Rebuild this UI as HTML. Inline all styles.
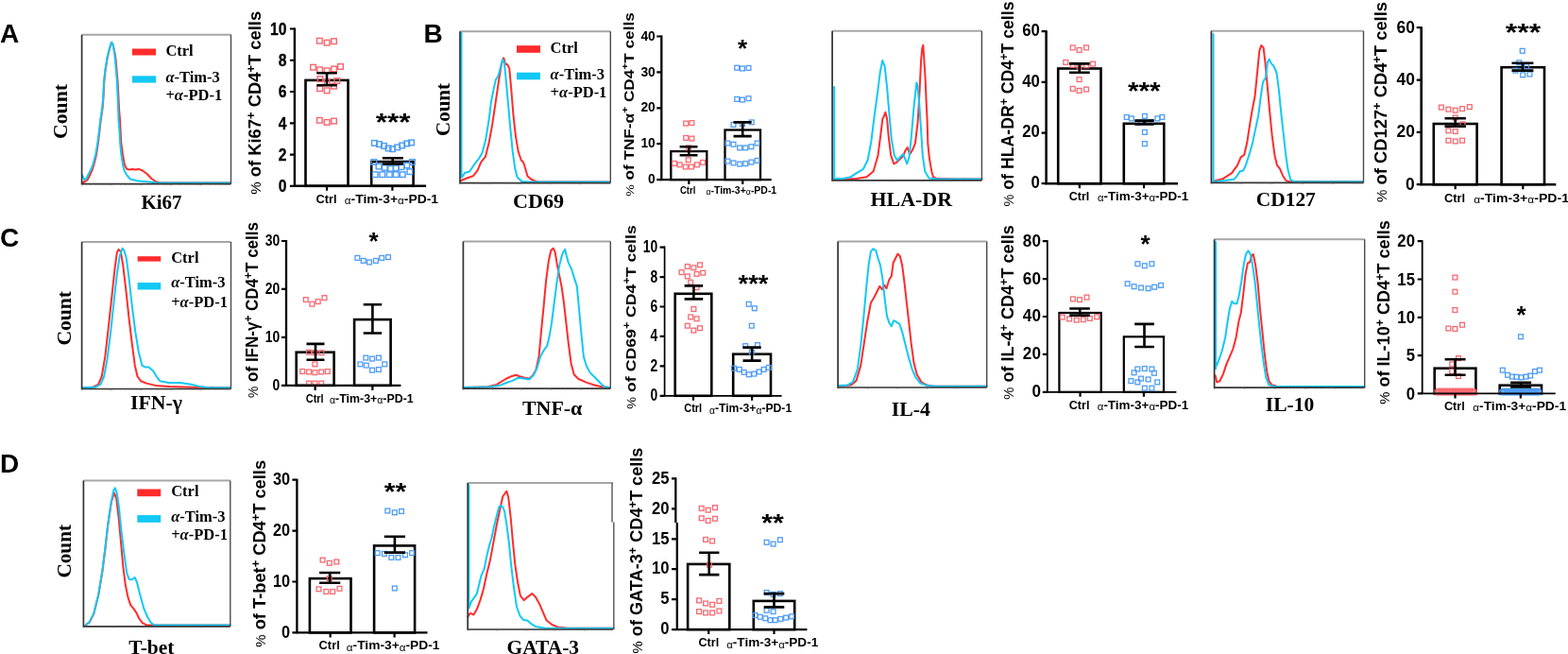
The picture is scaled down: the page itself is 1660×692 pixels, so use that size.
<!DOCTYPE html>
<html><head><meta charset="utf-8"><title>Figure</title>
<style>html,body{margin:0;padding:0;background:#fff;} svg{display:block;filter:blur(0.35px);}</style></head>
<body><svg width="1660" height="692" viewBox="0 0 1660 692">
<rect width="1660" height="692" fill="#fff"/>
<text x="0" y="45" font-family="'Liberation Sans', Arial, sans-serif" font-weight="bold" font-size="28">A</text>
<text x="448.4" y="45.3" font-family="'Liberation Sans', Arial, sans-serif" font-weight="bold" font-size="28">B</text>
<text x="0" y="261.2" font-family="'Liberation Sans', Arial, sans-serif" font-weight="bold" font-size="28">C</text>
<text x="0" y="499.8" font-family="'Liberation Sans', Arial, sans-serif" font-weight="bold" font-size="28">D</text>
<polyline points="87.2,193.5 90,192 92.5,190.5 94.8,186 97.5,180 99.3,174.5 101,168 102.2,162.4 104,150.5 105.4,138.7 106.7,126.8 108.5,115 109.5,103 110.3,86.3 111.5,75 113.6,61.3 115.6,53 117.3,47 118.2,45 119.8,48 121.5,56 122.6,63.1 124.6,86.3 126.2,117 127,126.8 128.2,150.5 129.8,162.4 131.8,174.2 134.2,178.8 137,179.6 140,179 144,179.4 147,178.8 150.8,180.5 155.6,184 160.4,189 165.1,192.3 170,193.5 244,193.5" fill="none" stroke="#ff2b2b" stroke-width="2" stroke-linejoin="round" stroke-linecap="round"/>
<polyline points="87.2,185.5 89.2,190 91,189.5 93.9,183.7 96.5,179 98.3,174.2 100,168 101.4,162.4 103.4,150.5 104.9,138.7 106.3,126.8 108.1,115 109.2,103 110,86.3 111.2,75 113.4,61.3 115.5,53 117.2,47 118.1,44.6 119.5,47 121,55 121.9,63.1 123.9,86.3 125.2,117 125.5,126.8 126.5,138.7 127.1,150.5 128.2,162.4 130,174.2 131.8,181.3 134.8,186 138,189.5 145,191.3 155,192.3 165,193.2 175,193.5 244,193.5" fill="none" stroke="#12c8f5" stroke-width="2" stroke-linejoin="round" stroke-linecap="round"/>
<path d="M86.6,36.7 H244.5" fill="none" stroke="#a6a6a6" stroke-width="2"/>
<path d="M244.5,36.7 V194.7" fill="none" stroke="#4a4a4a" stroke-width="1.4"/>
<path d="M86.6,36.7 V194.7 H244.5" fill="none" stroke="#333" stroke-width="1.7"/>
<path d="M86.6,194.7 v1.6 M96.11,194.7 v1.0 M101.67,194.7 v1.0 M105.61,194.7 v1.0 M108.67,194.7 v1.0 M111.17,194.7 v1.0 M113.29,194.7 v1.0 M115.12,194.7 v1.0 M116.73,194.7 v1.0 M118.18,194.7 v1.6 M127.69,194.7 v1.0 M133.25,194.7 v1.0 M137.19,194.7 v1.0 M140.25,194.7 v1.0 M142.75,194.7 v1.0 M144.87,194.7 v1.0 M146.7,194.7 v1.0 M148.31,194.7 v1.0 M149.76,194.7 v1.6 M159.27,194.7 v1.0 M164.83,194.7 v1.0 M168.77,194.7 v1.0 M171.83,194.7 v1.0 M174.33,194.7 v1.0 M176.45,194.7 v1.0 M178.28,194.7 v1.0 M179.89,194.7 v1.0 M181.34,194.7 v1.6 M190.85,194.7 v1.0 M196.41,194.7 v1.0 M200.35,194.7 v1.0 M203.41,194.7 v1.0 M205.91,194.7 v1.0 M208.03,194.7 v1.0 M209.86,194.7 v1.0 M211.47,194.7 v1.0 M212.92,194.7 v1.6 M222.43,194.7 v1.0 M227.99,194.7 v1.0 M231.93,194.7 v1.0 M234.99,194.7 v1.0 M237.49,194.7 v1.0 M239.61,194.7 v1.0 M241.44,194.7 v1.0 M243.05,194.7 v1.0" stroke="#666" stroke-width="0.8"/>
<text transform="translate(71,118) rotate(-90)" text-anchor="middle" font-family="'Liberation Serif', 'Times New Roman', serif" font-weight="bold" font-size="21" textLength="58" lengthAdjust="spacingAndGlyphs">Count</text>
<text x="149.5" y="221" font-family="'Liberation Serif', 'Times New Roman', serif" font-weight="bold" font-size="21" textLength="43" lengthAdjust="spacingAndGlyphs">Ki67</text>
<rect x="140" y="51.5" width="25" height="7" fill="#ff2b2b"/>
<rect x="140" y="80.3" width="25" height="7.3" fill="#12c8f5"/>
<text font-family="'Liberation Serif', 'Times New Roman', serif" font-weight="bold" font-size="16.5"><tspan x="175.4" y="58.5">Ctrl</tspan><tspan x="175.4" y="87"><tspan font-style="italic">α</tspan>-Tim-3</tspan><tspan x="175.4" y="106">+<tspan font-style="italic">α</tspan>-PD-1</tspan></text>
<polyline points="487.6,191.2 493.6,188.8 500.8,186.3 505.6,180.3 509.2,171.7 514,165.7 517.6,151.1 521.2,131.7 524.8,107.4 528.4,83.1 530.8,68.5 533.2,61.2 534.9,67.3 537.3,68.5 539.2,72.1 541.1,92.8 543.5,121.9 545.9,143.8 548.8,160.8 551.7,169.3 554.1,171.7 556,177.8 558.4,186.3 562,189.5 565.6,191.2 569.2,192.4 645,192.4" fill="none" stroke="#ff2b2b" stroke-width="2" stroke-linejoin="round" stroke-linecap="round"/>
<polyline points="488.5,34.5 488.5,185.5 488.8,187.6 492.4,182.7 497.2,181.5 502,174.2 506.8,168.2 510.4,162.1 514,148.8 517.6,126.9 520,107.5 522.4,95.4 524.8,84.5 527.2,80.9 529.6,72.4 532,62.7 533.9,66.3 535.6,83.3 538,110 540.4,136.6 542.8,160.9 545.2,177.9 547.6,187.6 552.4,191.9 560.8,192.4 645,192.4" fill="none" stroke="#12c8f5" stroke-width="2" stroke-linejoin="round" stroke-linecap="round"/>
<path d="M487,33.2 H646.3" fill="none" stroke="#a6a6a6" stroke-width="2"/>
<path d="M646.3,33.2 V193.6" fill="none" stroke="#4a4a4a" stroke-width="1.4"/>
<path d="M487,33.2 V193.6 H646.3" fill="none" stroke="#333" stroke-width="1.7"/>
<path d="M487,193.6 v1.6 M496.59,193.6 v1.0 M502.2,193.6 v1.0 M506.18,193.6 v1.0 M509.27,193.6 v1.0 M511.79,193.6 v1.0 M513.92,193.6 v1.0 M515.77,193.6 v1.0 M517.4,193.6 v1.0 M518.86,193.6 v1.6 M528.45,193.6 v1.0 M534.06,193.6 v1.0 M538.04,193.6 v1.0 M541.13,193.6 v1.0 M543.65,193.6 v1.0 M545.78,193.6 v1.0 M547.63,193.6 v1.0 M549.26,193.6 v1.0 M550.72,193.6 v1.6 M560.31,193.6 v1.0 M565.92,193.6 v1.0 M569.9,193.6 v1.0 M572.99,193.6 v1.0 M575.51,193.6 v1.0 M577.64,193.6 v1.0 M579.49,193.6 v1.0 M581.12,193.6 v1.0 M582.58,193.6 v1.6 M592.17,193.6 v1.0 M597.78,193.6 v1.0 M601.76,193.6 v1.0 M604.85,193.6 v1.0 M607.37,193.6 v1.0 M609.5,193.6 v1.0 M611.35,193.6 v1.0 M612.98,193.6 v1.0 M614.44,193.6 v1.6 M624.03,193.6 v1.0 M629.64,193.6 v1.0 M633.62,193.6 v1.0 M636.71,193.6 v1.0 M639.23,193.6 v1.0 M641.36,193.6 v1.0 M643.21,193.6 v1.0 M644.84,193.6 v1.0" stroke="#666" stroke-width="0.8"/>
<text transform="translate(475.8,116) rotate(-90)" text-anchor="middle" font-family="'Liberation Serif', 'Times New Roman', serif" font-weight="bold" font-size="21" textLength="56" lengthAdjust="spacingAndGlyphs">Count</text>
<text x="543" y="220" font-family="'Liberation Serif', 'Times New Roman', serif" font-weight="bold" font-size="21" textLength="54" lengthAdjust="spacingAndGlyphs">CD69</text>
<rect x="547" y="48.2" width="25" height="7.6" fill="#ff2b2b"/>
<rect x="547" y="76.7" width="25" height="7.6" fill="#12c8f5"/>
<text font-family="'Liberation Serif', 'Times New Roman', serif" font-weight="bold" font-size="16.5"><tspan x="582.6" y="55.8">Ctrl</tspan><tspan x="582.6" y="84"><tspan font-style="italic">α</tspan>-Tim-3</tspan><tspan x="582.6" y="103">+<tspan font-style="italic">α</tspan>-PD-1</tspan></text>
<polyline points="882.8,189.6 906.8,188.9 917.5,187.2 924.7,181.2 929.5,164.4 932.6,140.4 934.3,126 935.5,123.6 937.4,118.8 939.1,126 940.8,145.1 943.2,164.4 946.3,173.5 949.4,171.6 952.3,168.7 955.9,165.6 958.3,159.6 960.7,156 963.1,163.2 966.2,158.4 968.9,151.7 971.6,129.4 973,107 974.1,84.7 975.2,62.3 976.3,51 977.3,47.8 978.3,62.3 979.7,84.7 980.6,107 981.7,129.4 982.3,151.7 983.6,165 985,174.1 986.5,182 988,187.3 991.9,189.1 1039.5,189.6" fill="none" stroke="#ff2b2b" stroke-width="2" stroke-linejoin="round" stroke-linecap="round"/>
<polyline points="883.2,92 883.2,188.9 892.4,188.9 900.8,187.2 906.8,183.1 914,178.8 918.7,169.2 922.3,149.9 925.9,121.2 929.5,94.7 931.9,75.5 934.3,64 936.7,70.7 939.1,92.3 941.5,121.2 943.9,147.6 946.8,164.4 949.9,169.7 953.5,165.6 955.9,163.2 957.8,166.8 960.2,173.5 962.4,166.8 964.8,145.1 967.2,116.4 970.3,87.5 971.3,89.9 973.2,109.2 975.1,138 976.8,164.4 979.2,181.2 983.5,188.4 990.7,189.6 1039.5,189.6" fill="none" stroke="#12c8f5" stroke-width="2" stroke-linejoin="round" stroke-linecap="round"/>
<path d="M881.1,32.8 H1039.4" fill="none" stroke="#a6a6a6" stroke-width="2"/>
<path d="M1039.4,32.8 V190.8" fill="none" stroke="#4a4a4a" stroke-width="1.4"/>
<path d="M881.1,32.8 V190.8 H1039.4" fill="none" stroke="#333" stroke-width="1.7"/>
<path d="M881.1,190.8 v1.6 M890.63,190.8 v1.0 M896.21,190.8 v1.0 M900.16,190.8 v1.0 M903.23,190.8 v1.0 M905.74,190.8 v1.0 M907.86,190.8 v1.0 M909.69,190.8 v1.0 M911.31,190.8 v1.0 M912.76,190.8 v1.6 M922.29,190.8 v1.0 M927.87,190.8 v1.0 M931.82,190.8 v1.0 M934.89,190.8 v1.0 M937.4,190.8 v1.0 M939.52,190.8 v1.0 M941.35,190.8 v1.0 M942.97,190.8 v1.0 M944.42,190.8 v1.6 M953.95,190.8 v1.0 M959.53,190.8 v1.0 M963.48,190.8 v1.0 M966.55,190.8 v1.0 M969.06,190.8 v1.0 M971.18,190.8 v1.0 M973.01,190.8 v1.0 M974.63,190.8 v1.0 M976.08,190.8 v1.6 M985.61,190.8 v1.0 M991.19,190.8 v1.0 M995.14,190.8 v1.0 M998.21,190.8 v1.0 M1000.72,190.8 v1.0 M1002.84,190.8 v1.0 M1004.67,190.8 v1.0 M1006.29,190.8 v1.0 M1007.74,190.8 v1.6 M1017.27,190.8 v1.0 M1022.85,190.8 v1.0 M1026.8,190.8 v1.0 M1029.87,190.8 v1.0 M1032.38,190.8 v1.0 M1034.5,190.8 v1.0 M1036.33,190.8 v1.0 M1037.95,190.8 v1.0" stroke="#666" stroke-width="0.8"/>
<text x="921.5" y="217.8" font-family="'Liberation Serif', 'Times New Roman', serif" font-weight="bold" font-size="21" textLength="86.5" lengthAdjust="spacingAndGlyphs">HLA-DR</text>
<polyline points="1284.8,191.7 1294.4,189.3 1304,183.2 1310,174.8 1313.6,166.3 1317.2,163.9 1320.3,150.6 1323.2,131.3 1325.6,116.8 1328.5,102.3 1330.9,78.2 1333.3,54 1335.2,48 1337.6,50.4 1339.5,66.1 1341.9,92.7 1344.3,119.2 1346.7,143.4 1349.6,165.1 1352,174.8 1354.9,178.4 1358,185.7 1361.6,191.2 1365.2,192.2 1442.8,192.2" fill="none" stroke="#ff2b2b" stroke-width="2" stroke-linejoin="round" stroke-linecap="round"/>
<polyline points="1284.5,36 1284.5,191.9 1284.8,192.2 1294.4,191.2 1306.4,189.8 1310,185.7 1312.4,181.5 1316,180.8 1318.9,174.8 1322,165.1 1325.6,153.1 1329.2,136.2 1332.3,121.7 1334.7,102.4 1337.1,86.7 1340,81.9 1341.9,66.2 1343.6,62.6 1346,67.4 1348.4,69.8 1351.5,77 1353.9,95.1 1356.3,119.3 1358.7,141 1361.1,162.7 1363.5,179.6 1366.4,190.5 1370,192.2 1442.8,192.2" fill="none" stroke="#12c8f5" stroke-width="2" stroke-linejoin="round" stroke-linecap="round"/>
<path d="M1282.4,32.8 H1443.5" fill="none" stroke="#a6a6a6" stroke-width="2"/>
<path d="M1443.5,32.8 V193.4" fill="none" stroke="#4a4a4a" stroke-width="1.4"/>
<path d="M1282.4,32.8 V193.4 H1443.5" fill="none" stroke="#333" stroke-width="1.7"/>
<path d="M1282.4,193.4 v1.6 M1292.1,193.4 v1.0 M1297.77,193.4 v1.0 M1301.8,193.4 v1.0 M1304.92,193.4 v1.0 M1307.47,193.4 v1.0 M1309.63,193.4 v1.0 M1311.5,193.4 v1.0 M1313.15,193.4 v1.0 M1314.62,193.4 v1.6 M1324.32,193.4 v1.0 M1329.99,193.4 v1.0 M1334.02,193.4 v1.0 M1337.14,193.4 v1.0 M1339.69,193.4 v1.0 M1341.85,193.4 v1.0 M1343.72,193.4 v1.0 M1345.37,193.4 v1.0 M1346.84,193.4 v1.6 M1356.54,193.4 v1.0 M1362.21,193.4 v1.0 M1366.24,193.4 v1.0 M1369.36,193.4 v1.0 M1371.91,193.4 v1.0 M1374.07,193.4 v1.0 M1375.94,193.4 v1.0 M1377.59,193.4 v1.0 M1379.06,193.4 v1.6 M1388.76,193.4 v1.0 M1394.43,193.4 v1.0 M1398.46,193.4 v1.0 M1401.58,193.4 v1.0 M1404.13,193.4 v1.0 M1406.29,193.4 v1.0 M1408.16,193.4 v1.0 M1409.81,193.4 v1.0 M1411.28,193.4 v1.6 M1420.98,193.4 v1.0 M1426.65,193.4 v1.0 M1430.68,193.4 v1.0 M1433.8,193.4 v1.0 M1436.35,193.4 v1.0 M1438.51,193.4 v1.0 M1440.38,193.4 v1.0 M1442.03,193.4 v1.0" stroke="#666" stroke-width="0.8"/>
<text x="1329.8" y="217.8" font-family="'Liberation Serif', 'Times New Roman', serif" font-weight="bold" font-size="21" textLength="63" lengthAdjust="spacingAndGlyphs">CD127</text>
<polyline points="87,410.3 98.2,409.8 104.1,406.7 107.7,398.5 111.3,377.2 114.8,346.5 118.4,313.4 121.4,285.1 123.8,267.4 125.5,263.9 127.8,266.2 130.2,280.3 133.3,306.4 136.6,337.1 139.7,363.1 142.8,386.7 145.6,398.5 149.2,403.2 155.1,405.6 164.6,407.9 178.8,409.1 202.5,409.8 244,410.3" fill="none" stroke="#ff2b2b" stroke-width="2" stroke-linejoin="round" stroke-linecap="round"/>
<polyline points="87,410.3 100.6,409.8 106.5,406.7 110.1,398.5 113.6,379.6 117.2,351.2 120.7,318.2 123.8,289.8 126.7,271 129.5,262.7 131.4,265 133.8,273.3 136.6,294.6 139.7,322.9 143.3,351.2 146.8,372.5 150.4,386.7 153.9,388.6 157.5,388.6 162.2,392.6 165.8,398.5 169.3,403.2 178.8,405.1 190.7,405.1 202.5,406.7 212,409.1 221.5,410.3 244,410.3" fill="none" stroke="#12c8f5" stroke-width="2" stroke-linejoin="round" stroke-linecap="round"/>
<path d="M86.6,256 H244.5" fill="none" stroke="#a6a6a6" stroke-width="2"/>
<path d="M244.5,256 V411.5" fill="none" stroke="#4a4a4a" stroke-width="1.4"/>
<path d="M86.6,256 V411.5 H244.5" fill="none" stroke="#333" stroke-width="1.7"/>
<path d="M86.6,411.5 v1.6 M96.11,411.5 v1.0 M101.67,411.5 v1.0 M105.61,411.5 v1.0 M108.67,411.5 v1.0 M111.17,411.5 v1.0 M113.29,411.5 v1.0 M115.12,411.5 v1.0 M116.73,411.5 v1.0 M118.18,411.5 v1.6 M127.69,411.5 v1.0 M133.25,411.5 v1.0 M137.19,411.5 v1.0 M140.25,411.5 v1.0 M142.75,411.5 v1.0 M144.87,411.5 v1.0 M146.7,411.5 v1.0 M148.31,411.5 v1.0 M149.76,411.5 v1.6 M159.27,411.5 v1.0 M164.83,411.5 v1.0 M168.77,411.5 v1.0 M171.83,411.5 v1.0 M174.33,411.5 v1.0 M176.45,411.5 v1.0 M178.28,411.5 v1.0 M179.89,411.5 v1.0 M181.34,411.5 v1.6 M190.85,411.5 v1.0 M196.41,411.5 v1.0 M200.35,411.5 v1.0 M203.41,411.5 v1.0 M205.91,411.5 v1.0 M208.03,411.5 v1.0 M209.86,411.5 v1.0 M211.47,411.5 v1.0 M212.92,411.5 v1.6 M222.43,411.5 v1.0 M227.99,411.5 v1.0 M231.93,411.5 v1.0 M234.99,411.5 v1.0 M237.49,411.5 v1.0 M239.61,411.5 v1.0 M241.44,411.5 v1.0 M243.05,411.5 v1.0" stroke="#666" stroke-width="0.8"/>
<text transform="translate(74.8,336.8) rotate(-90)" text-anchor="middle" font-family="'Liberation Serif', 'Times New Roman', serif" font-weight="bold" font-size="21" textLength="57.6" lengthAdjust="spacingAndGlyphs">Count</text>
<text x="138" y="432.8" font-family="'Liberation Serif', 'Times New Roman', serif" font-weight="bold" font-size="21" textLength="54.8" lengthAdjust="spacingAndGlyphs">IFN-γ</text>
<rect x="145.6" y="271.2" width="24.6" height="5.4" fill="#ff2b2b"/>
<rect x="145.6" y="299" width="24.6" height="7.5" fill="#12c8f5"/>
<text font-family="'Liberation Serif', 'Times New Roman', serif" font-weight="bold" font-size="16.5"><tspan x="181.2" y="277.5">Ctrl</tspan><tspan x="181.2" y="303.8"><tspan font-style="italic">α</tspan>-Tim-3</tspan><tspan x="181.2" y="324.7">+<tspan font-style="italic">α</tspan>-PD-1</tspan></text>
<polyline points="490.4,410 516.4,409.3 525.9,406.9 535.4,401 541.3,398.2 546.1,396.8 550.1,398.2 555.6,399.8 560.3,400.5 563.8,397.5 567.4,391.5 570.5,377.4 572.9,351.3 575.7,323 578.1,296.9 580.9,275.7 583.3,265 585.7,262.7 587.5,266.2 589.9,280.4 592.3,292.2 594.7,304 597,320.6 599.4,341.9 601.8,363.2 604.6,384.5 607.7,396.3 612.4,401 620.7,404.6 630.2,407.7 637.3,409.3 645.5,410" fill="none" stroke="#ff2b2b" stroke-width="2" stroke-linejoin="round" stroke-linecap="round"/>
<polyline points="490.4,410 518.8,409.3 528.3,408.1 535.4,405.3 542.5,402.9 548.4,399.8 554.4,400.5 560.3,401.5 565,396.8 568.6,389.2 572.1,377.4 575.2,371.5 579.3,365.6 581.6,356.1 584,341.9 586.4,323 589.4,299.3 592.3,280.4 594.7,271 596.6,266.2 598.2,263.9 599.9,271 601.8,278.1 605.3,285.2 607.7,293.4 610.8,302.9 613.1,327.7 615.5,353.7 617.9,377.4 620.7,386.8 624.3,393.9 630.2,399.8 636.1,405.8 639.7,409.3 645.5,410" fill="none" stroke="#12c8f5" stroke-width="2" stroke-linejoin="round" stroke-linecap="round"/>
<path d="M490.4,255.6 H646.3" fill="none" stroke="#a6a6a6" stroke-width="2"/>
<path d="M646.3,255.6 V411.2" fill="none" stroke="#4a4a4a" stroke-width="1.4"/>
<path d="M490.4,255.6 V411.2 H646.3" fill="none" stroke="#333" stroke-width="1.7"/>
<path d="M490.4,411.2 v1.6 M499.79,411.2 v1.0 M505.28,411.2 v1.0 M509.17,411.2 v1.0 M512.19,411.2 v1.0 M514.66,411.2 v1.0 M516.75,411.2 v1.0 M518.56,411.2 v1.0 M520.15,411.2 v1.0 M521.58,411.2 v1.6 M530.97,411.2 v1.0 M536.46,411.2 v1.0 M540.35,411.2 v1.0 M543.37,411.2 v1.0 M545.84,411.2 v1.0 M547.93,411.2 v1.0 M549.74,411.2 v1.0 M551.33,411.2 v1.0 M552.76,411.2 v1.6 M562.15,411.2 v1.0 M567.64,411.2 v1.0 M571.53,411.2 v1.0 M574.55,411.2 v1.0 M577.02,411.2 v1.0 M579.11,411.2 v1.0 M580.92,411.2 v1.0 M582.51,411.2 v1.0 M583.94,411.2 v1.6 M593.33,411.2 v1.0 M598.82,411.2 v1.0 M602.71,411.2 v1.0 M605.73,411.2 v1.0 M608.2,411.2 v1.0 M610.29,411.2 v1.0 M612.1,411.2 v1.0 M613.69,411.2 v1.0 M615.12,411.2 v1.6 M624.51,411.2 v1.0 M630,411.2 v1.0 M633.89,411.2 v1.0 M636.91,411.2 v1.0 M639.38,411.2 v1.0 M641.47,411.2 v1.0 M643.28,411.2 v1.0 M644.87,411.2 v1.0" stroke="#666" stroke-width="0.8"/>
<text x="553" y="439.4" font-family="'Liberation Serif', 'Times New Roman', serif" font-weight="bold" font-size="21" textLength="63.3" lengthAdjust="spacingAndGlyphs">TNF-α</text>
<polyline points="887.6,408.8 900.6,407.6 906.5,402.9 911.3,386.4 914.8,362.9 918.4,339.2 921.9,320.5 924.8,315.7 927.9,309.8 931.4,302.8 933.8,306.3 936.2,301.6 938.5,305.2 941.4,295.7 943.8,292.1 945.7,278 948,273.3 950.4,268.6 952.8,271 955.1,280.4 957.5,299.2 959.9,320.5 962.3,341.6 964.6,362.9 967.5,384.1 970.6,395.9 975.3,404.1 981.2,407.6 988.3,408.8 1044.5,408.8" fill="none" stroke="#ff2b2b" stroke-width="2" stroke-linejoin="round" stroke-linecap="round"/>
<polyline points="887.6,408.1 897,407.6 903,404.1 907.7,391.1 911.3,365.2 914.4,334.6 917.2,303.9 919.6,280.4 921.9,266.2 924.3,263.4 927.2,265 929.5,273.2 931.9,280.4 934.3,294.5 936.6,315.7 939,334.6 941.4,341.6 943.8,345.2 946.1,339.2 948.5,340.4 952.3,342.8 955.1,351.1 958.7,365.2 962.3,379.4 965.8,391.1 969.4,399.4 974.1,405.2 981.2,408.1 990.7,408.8 1044.5,408.8" fill="none" stroke="#12c8f5" stroke-width="2" stroke-linejoin="round" stroke-linecap="round"/>
<path d="M887.1,255.6 H1044.7" fill="none" stroke="#a6a6a6" stroke-width="2"/>
<path d="M1044.7,255.6 V410" fill="none" stroke="#4a4a4a" stroke-width="1.4"/>
<path d="M887.1,255.6 V410 H1044.7" fill="none" stroke="#333" stroke-width="1.7"/>
<path d="M887.1,410 v1.6 M896.59,410 v1.0 M902.14,410 v1.0 M906.08,410 v1.0 M909.13,410 v1.0 M911.63,410 v1.0 M913.74,410 v1.0 M915.57,410 v1.0 M917.18,410 v1.0 M918.62,410 v1.6 M928.11,410 v1.0 M933.66,410 v1.0 M937.6,410 v1.0 M940.65,410 v1.0 M943.15,410 v1.0 M945.26,410 v1.0 M947.09,410 v1.0 M948.7,410 v1.0 M950.14,410 v1.6 M959.63,410 v1.0 M965.18,410 v1.0 M969.12,410 v1.0 M972.17,410 v1.0 M974.67,410 v1.0 M976.78,410 v1.0 M978.61,410 v1.0 M980.22,410 v1.0 M981.66,410 v1.6 M991.15,410 v1.0 M996.7,410 v1.0 M1000.64,410 v1.0 M1003.69,410 v1.0 M1006.19,410 v1.0 M1008.3,410 v1.0 M1010.13,410 v1.0 M1011.74,410 v1.0 M1013.18,410 v1.6 M1022.67,410 v1.0 M1028.22,410 v1.0 M1032.16,410 v1.0 M1035.21,410 v1.0 M1037.71,410 v1.0 M1039.82,410 v1.0 M1041.65,410 v1.0 M1043.26,410 v1.0" stroke="#666" stroke-width="0.8"/>
<text x="943.8" y="440" font-family="'Liberation Serif', 'Times New Roman', serif" font-weight="bold" font-size="21" textLength="41" lengthAdjust="spacingAndGlyphs">IL-4</text>
<polyline points="1286.6,397.3 1288.2,404.4 1291.3,403.2 1294.8,396.1 1298.4,385.4 1302,377.1 1305.5,368.8 1308.6,356.9 1311.4,340.2 1313.8,330.8 1316.2,311.7 1318.5,290.4 1320.9,278.4 1323.3,277.3 1325.2,270.1 1326.8,269 1329.2,280.8 1331.6,299.9 1333.9,326 1336.3,349.7 1338.7,373.5 1341.1,392.6 1343.4,403.2 1346.5,407.3 1351.7,408.7 1444.5,409" fill="none" stroke="#ff2b2b" stroke-width="2" stroke-linejoin="round" stroke-linecap="round"/>
<polyline points="1287,256 1287,390.2 1287.3,387.7 1290.1,381.8 1293.7,371.2 1297.2,356.9 1299.6,340.2 1302,326 1304.3,318.9 1306.7,321.3 1309.5,321.3 1311.9,311.7 1314.3,297.5 1316.6,280.9 1319,269 1321.4,265.4 1323.8,269 1326.1,280.9 1328.5,297.5 1330.9,321.3 1333.2,345 1335.6,366.4 1338,385.4 1340.3,399.7 1343.4,407.3 1348.2,408.7 1444.5,409" fill="none" stroke="#12c8f5" stroke-width="2" stroke-linejoin="round" stroke-linecap="round"/>
<path d="M1285.6,253.2 H1444.7" fill="none" stroke="#a6a6a6" stroke-width="2"/>
<path d="M1444.7,253.2 V410.2" fill="none" stroke="#4a4a4a" stroke-width="1.4"/>
<path d="M1285.6,253.2 V410.2 H1444.7" fill="none" stroke="#333" stroke-width="1.7"/>
<path d="M1285.6,410.2 v1.6 M1295.18,410.2 v1.0 M1300.78,410.2 v1.0 M1304.76,410.2 v1.0 M1307.84,410.2 v1.0 M1310.36,410.2 v1.0 M1312.49,410.2 v1.0 M1314.34,410.2 v1.0 M1315.96,410.2 v1.0 M1317.42,410.2 v1.6 M1327,410.2 v1.0 M1332.6,410.2 v1.0 M1336.58,410.2 v1.0 M1339.66,410.2 v1.0 M1342.18,410.2 v1.0 M1344.31,410.2 v1.0 M1346.16,410.2 v1.0 M1347.78,410.2 v1.0 M1349.24,410.2 v1.6 M1358.82,410.2 v1.0 M1364.42,410.2 v1.0 M1368.4,410.2 v1.0 M1371.48,410.2 v1.0 M1374,410.2 v1.0 M1376.13,410.2 v1.0 M1377.98,410.2 v1.0 M1379.6,410.2 v1.0 M1381.06,410.2 v1.6 M1390.64,410.2 v1.0 M1396.24,410.2 v1.0 M1400.22,410.2 v1.0 M1403.3,410.2 v1.0 M1405.82,410.2 v1.0 M1407.95,410.2 v1.0 M1409.8,410.2 v1.0 M1411.42,410.2 v1.0 M1412.88,410.2 v1.6 M1422.46,410.2 v1.0 M1428.06,410.2 v1.0 M1432.04,410.2 v1.0 M1435.12,410.2 v1.0 M1437.64,410.2 v1.0 M1439.77,410.2 v1.0 M1441.62,410.2 v1.0 M1443.24,410.2 v1.0" stroke="#666" stroke-width="0.8"/>
<text x="1339.8" y="434.5" font-family="'Liberation Serif', 'Times New Roman', serif" font-weight="bold" font-size="21" textLength="51.5" lengthAdjust="spacingAndGlyphs">IL-10</text>
<polyline points="90.4,661.6 94.7,658.5 99.4,649.1 104.1,630.3 108.4,604.5 111.4,580.9 114.3,555 117.8,531.5 120.9,521.5 123.2,527.4 125.6,547.4 128,573.3 130.3,599.2 132.7,618.1 135.5,632.1 138.3,640.4 141.4,643.9 144.5,648.6 147.3,654.5 150.8,659.2 155.5,661.6 243.5,661.6" fill="none" stroke="#ff2b2b" stroke-width="2" stroke-linejoin="round" stroke-linecap="round"/>
<polyline points="90.4,661.6 94.7,658 99.4,648.6 104.1,629.7 108.4,603.9 111.3,580.3 114.3,554.4 117.8,530.9 120.2,519.1 121.8,516.3 123.7,521.5 126.1,538 128.4,561.5 131.3,585.1 134.3,606.3 136.7,612.9 139.7,613.3 142.6,611 144.9,615.7 147.8,627.4 152.2,643.5 156,652.5 159.5,658.5 163,661.3 243.5,661.6" fill="none" stroke="#12c8f5" stroke-width="2" stroke-linejoin="round" stroke-linecap="round"/>
<path d="M88.4,508.4 H243.8" fill="none" stroke="#a6a6a6" stroke-width="2"/>
<path d="M243.8,508.4 V662.8" fill="none" stroke="#4a4a4a" stroke-width="1.4"/>
<path d="M88.4,508.4 V662.8 H243.8" fill="none" stroke="#333" stroke-width="1.7"/>
<path d="M88.4,662.8 v1.6 M97.76,662.8 v1.0 M103.23,662.8 v1.0 M107.11,662.8 v1.0 M110.12,662.8 v1.0 M112.58,662.8 v1.0 M114.67,662.8 v1.0 M116.47,662.8 v1.0 M118.06,662.8 v1.0 M119.48,662.8 v1.6 M128.84,662.8 v1.0 M134.31,662.8 v1.0 M138.19,662.8 v1.0 M141.2,662.8 v1.0 M143.66,662.8 v1.0 M145.75,662.8 v1.0 M147.55,662.8 v1.0 M149.14,662.8 v1.0 M150.56,662.8 v1.6 M159.92,662.8 v1.0 M165.39,662.8 v1.0 M169.27,662.8 v1.0 M172.28,662.8 v1.0 M174.74,662.8 v1.0 M176.83,662.8 v1.0 M178.63,662.8 v1.0 M180.22,662.8 v1.0 M181.64,662.8 v1.6 M191,662.8 v1.0 M196.47,662.8 v1.0 M200.35,662.8 v1.0 M203.36,662.8 v1.0 M205.82,662.8 v1.0 M207.91,662.8 v1.0 M209.71,662.8 v1.0 M211.3,662.8 v1.0 M212.72,662.8 v1.6 M222.08,662.8 v1.0 M227.55,662.8 v1.0 M231.43,662.8 v1.0 M234.44,662.8 v1.0 M236.9,662.8 v1.0 M238.99,662.8 v1.0 M240.79,662.8 v1.0 M242.38,662.8 v1.0" stroke="#666" stroke-width="0.8"/>
<text transform="translate(74.8,583.3) rotate(-90)" text-anchor="middle" font-family="'Liberation Serif', 'Times New Roman', serif" font-weight="bold" font-size="21" textLength="56.6" lengthAdjust="spacingAndGlyphs">Count</text>
<text x="136.3" y="691.5" font-family="'Liberation Serif', 'Times New Roman', serif" font-weight="bold" font-size="21" textLength="48.2" lengthAdjust="spacingAndGlyphs">T-bet</text>
<rect x="145.3" y="517.5" width="24.9" height="7.7" fill="#ff2b2b"/>
<rect x="145.3" y="545.1" width="24.9" height="7.7" fill="#12c8f5"/>
<text font-family="'Liberation Serif', 'Times New Roman', serif" font-weight="bold" font-size="16.5"><tspan x="181.2" y="525.2">Ctrl</tspan><tspan x="181.2" y="551.8"><tspan font-style="italic">α</tspan>-Tim-3</tspan><tspan x="181.2" y="571">+<tspan font-style="italic">α</tspan>-PD-1</tspan></text>
<polyline points="495.3,652.8 497.8,648.8 501.4,650.4 504.9,644.6 508.4,635.1 511.9,623.3 515.4,606.8 518.9,592.7 522.4,573.9 525.9,555 529.4,538.5 532.2,525.5 534.6,522 536.4,519.7 538.3,526.7 540.7,548 543,573.9 545.3,597.4 548.1,616.3 550.9,630.4 554.7,635.1 558.7,631.6 563.3,628 566.9,631.6 571.5,639.8 575,648.1 578.5,656.3 584.4,661 590.2,663.4 599.6,664.6 649.5,664.8" fill="none" stroke="#ff2b2b" stroke-width="2" stroke-linejoin="round" stroke-linecap="round"/>
<polyline points="496.4,513 496.4,643.4 499,636.3 502.5,631.6 504.9,628.1 507.2,618.6 509.5,609.2 512.6,602.2 515.4,588 518.2,576.2 520.5,569.2 522.9,557.4 525.9,545.6 528.3,536.3 530.1,535 532.2,536.3 534.1,540.9 536.4,555.1 538.8,573.9 541.1,597.5 543.9,621 547,642.2 550.5,651.6 554,655.8 558.7,656.7 562.2,659.9 566.9,662.9 576.2,664.6 649.5,664.8" fill="none" stroke="#12c8f5" stroke-width="2" stroke-linejoin="round" stroke-linecap="round"/>
<path d="M495.2,511.1 H649.2" fill="none" stroke="#a6a6a6" stroke-width="2"/>
<path d="M648,511.1 V552.6 M649.8,552.6 V666" fill="none" stroke="#555" stroke-width="1.4"/>
<path d="M495.2,511.1 V666 H649.2" fill="none" stroke="#333" stroke-width="1.7"/>
<path d="M495.2,666 v1.6 M504.47,666 v1.0 M509.9,666 v1.0 M513.74,666 v1.0 M516.73,666 v1.0 M519.17,666 v1.0 M521.23,666 v1.0 M523.02,666 v1.0 M524.59,666 v1.0 M526,666 v1.6 M535.27,666 v1.0 M540.7,666 v1.0 M544.54,666 v1.0 M547.53,666 v1.0 M549.97,666 v1.0 M552.03,666 v1.0 M553.82,666 v1.0 M555.39,666 v1.0 M556.8,666 v1.6 M566.07,666 v1.0 M571.5,666 v1.0 M575.34,666 v1.0 M578.33,666 v1.0 M580.77,666 v1.0 M582.83,666 v1.0 M584.62,666 v1.0 M586.19,666 v1.0 M587.6,666 v1.6 M596.87,666 v1.0 M602.3,666 v1.0 M606.14,666 v1.0 M609.13,666 v1.0 M611.57,666 v1.0 M613.63,666 v1.0 M615.42,666 v1.0 M616.99,666 v1.0 M618.4,666 v1.6 M627.67,666 v1.0 M633.1,666 v1.0 M636.94,666 v1.0 M639.93,666 v1.0 M642.37,666 v1.0 M644.43,666 v1.0 M646.22,666 v1.0 M647.79,666 v1.0" stroke="#666" stroke-width="0.8"/>
<text x="536.5" y="691.5" font-family="'Liberation Serif', 'Times New Roman', serif" font-weight="bold" font-size="21" textLength="76.5" lengthAdjust="spacingAndGlyphs">GATA-3</text>
<text transform="translate(275.9,108.8) rotate(-90)" text-anchor="middle" font-family="'Liberation Sans', Arial, sans-serif" font-weight="bold" font-size="18" textLength="194" lengthAdjust="spacingAndGlyphs" xml:space="preserve"><tspan font-weight="normal" font-size="14.8">%</tspan> of Ki67<tspan dy="-6" font-size="12.6">+</tspan><tspan dy="6"> CD4</tspan><tspan dy="-6" font-size="12.6">+</tspan><tspan dy="6">T cells</tspan></text>
<text transform="translate(303.4,203.24) scale(0.87,1)" text-anchor="end" font-family="'Liberation Sans', Arial, sans-serif" font-weight="bold" font-size="18" stroke="#000" stroke-width="0.3">0</text>
<text transform="translate(303.4,169.98) scale(0.87,1)" text-anchor="end" font-family="'Liberation Sans', Arial, sans-serif" font-weight="bold" font-size="18" stroke="#000" stroke-width="0.3">2</text>
<text transform="translate(303.4,136.72) scale(0.87,1)" text-anchor="end" font-family="'Liberation Sans', Arial, sans-serif" font-weight="bold" font-size="18" stroke="#000" stroke-width="0.3">4</text>
<text transform="translate(303.4,103.46) scale(0.87,1)" text-anchor="end" font-family="'Liberation Sans', Arial, sans-serif" font-weight="bold" font-size="18" stroke="#000" stroke-width="0.3">6</text>
<text transform="translate(303.4,70.2) scale(0.87,1)" text-anchor="end" font-family="'Liberation Sans', Arial, sans-serif" font-weight="bold" font-size="18" stroke="#000" stroke-width="0.3">8</text>
<text transform="translate(303.4,36.94) scale(0.87,1)" text-anchor="end" font-family="'Liberation Sans', Arial, sans-serif" font-weight="bold" font-size="18" stroke="#000" stroke-width="0.3">10</text>
<path d="M306.9,196.8 H311.9 M306.9,163.54 H311.9 M306.9,130.28 H311.9 M306.9,97.02 H311.9 M306.9,63.76 H311.9 M306.9,30.5 H311.9" stroke="#000" stroke-width="2.2"/>
<rect x="323.5" y="84.9" width="45" height="111.9" fill="#fff" stroke="#000" stroke-width="2.6"/>
<rect x="393.2" y="171.1" width="44.4" height="25.7" fill="#fff" stroke="#000" stroke-width="2.6"/>
<rect x="335.5" y="40.4" width="5.6" height="5.6" fill="none" stroke="#f86870" stroke-width="1.45"/>
<rect x="343.3" y="42.4" width="5.6" height="5.6" fill="none" stroke="#f86870" stroke-width="1.45"/>
<rect x="350.7" y="40.9" width="5.6" height="5.6" fill="none" stroke="#f86870" stroke-width="1.45"/>
<rect x="328.7" y="68.4" width="5.6" height="5.6" fill="none" stroke="#f86870" stroke-width="1.45"/>
<rect x="335.8" y="71" width="5.6" height="5.6" fill="none" stroke="#f86870" stroke-width="1.45"/>
<rect x="343.3" y="72" width="5.6" height="5.6" fill="none" stroke="#f86870" stroke-width="1.45"/>
<rect x="350.7" y="70.2" width="5.6" height="5.6" fill="none" stroke="#f86870" stroke-width="1.45"/>
<rect x="357.7" y="67.7" width="5.6" height="5.6" fill="none" stroke="#f86870" stroke-width="1.45"/>
<rect x="336.2" y="80.8" width="5.6" height="5.6" fill="none" stroke="#f86870" stroke-width="1.45"/>
<rect x="343.3" y="84.1" width="5.6" height="5.6" fill="none" stroke="#f86870" stroke-width="1.45"/>
<rect x="354" y="82.8" width="5.6" height="5.6" fill="none" stroke="#f86870" stroke-width="1.45"/>
<rect x="335.8" y="90.9" width="5.6" height="5.6" fill="none" stroke="#f86870" stroke-width="1.45"/>
<rect x="343.3" y="93" width="5.6" height="5.6" fill="none" stroke="#f86870" stroke-width="1.45"/>
<rect x="350.7" y="88.4" width="5.6" height="5.6" fill="none" stroke="#f86870" stroke-width="1.45"/>
<rect x="335.5" y="124.5" width="5.6" height="5.6" fill="none" stroke="#f86870" stroke-width="1.45"/>
<rect x="343.3" y="126.6" width="5.6" height="5.6" fill="none" stroke="#f86870" stroke-width="1.45"/>
<rect x="350.7" y="125.3" width="5.6" height="5.6" fill="none" stroke="#f86870" stroke-width="1.45"/>
<rect x="393.6" y="148.6" width="5.6" height="5.6" fill="none" stroke="#4e9cf6" stroke-width="1.45"/>
<rect x="398.7" y="149.8" width="5.6" height="5.6" fill="none" stroke="#4e9cf6" stroke-width="1.45"/>
<rect x="403.7" y="151.6" width="5.6" height="5.6" fill="none" stroke="#4e9cf6" stroke-width="1.45"/>
<rect x="408.3" y="154.1" width="5.6" height="5.6" fill="none" stroke="#4e9cf6" stroke-width="1.45"/>
<rect x="412.8" y="154.9" width="5.6" height="5.6" fill="none" stroke="#4e9cf6" stroke-width="1.45"/>
<rect x="417.9" y="153.1" width="5.6" height="5.6" fill="none" stroke="#4e9cf6" stroke-width="1.45"/>
<rect x="422.9" y="151.1" width="5.6" height="5.6" fill="none" stroke="#4e9cf6" stroke-width="1.45"/>
<rect x="428" y="149.1" width="5.6" height="5.6" fill="none" stroke="#4e9cf6" stroke-width="1.45"/>
<rect x="432.8" y="148.1" width="5.6" height="5.6" fill="none" stroke="#4e9cf6" stroke-width="1.45"/>
<rect x="393.1" y="168.7" width="5.6" height="5.6" fill="none" stroke="#4e9cf6" stroke-width="1.45"/>
<rect x="433.6" y="168.7" width="5.6" height="5.6" fill="none" stroke="#4e9cf6" stroke-width="1.45"/>
<rect x="398.2" y="173.3" width="5.6" height="5.6" fill="none" stroke="#4e9cf6" stroke-width="1.45"/>
<rect x="404.5" y="174.6" width="5.6" height="5.6" fill="none" stroke="#4e9cf6" stroke-width="1.45"/>
<rect x="410.8" y="175.6" width="5.6" height="5.6" fill="none" stroke="#4e9cf6" stroke-width="1.45"/>
<rect x="416.4" y="175.1" width="5.6" height="5.6" fill="none" stroke="#4e9cf6" stroke-width="1.45"/>
<rect x="422.2" y="173.8" width="5.6" height="5.6" fill="none" stroke="#4e9cf6" stroke-width="1.45"/>
<rect x="428" y="172.1" width="5.6" height="5.6" fill="none" stroke="#4e9cf6" stroke-width="1.45"/>
<rect x="394.4" y="181.9" width="5.6" height="5.6" fill="none" stroke="#4e9cf6" stroke-width="1.45"/>
<rect x="402" y="181.9" width="5.6" height="5.6" fill="none" stroke="#4e9cf6" stroke-width="1.45"/>
<rect x="409.5" y="181.9" width="5.6" height="5.6" fill="none" stroke="#4e9cf6" stroke-width="1.45"/>
<rect x="416.4" y="181.9" width="5.6" height="5.6" fill="none" stroke="#4e9cf6" stroke-width="1.45"/>
<rect x="423.4" y="181.9" width="5.6" height="5.6" fill="none" stroke="#4e9cf6" stroke-width="1.45"/>
<rect x="431" y="178.9" width="5.6" height="5.6" fill="none" stroke="#4e9cf6" stroke-width="1.45"/>
<path d="M346,77.3 V90.2 M335.3,77.3 H356.8 M335.3,90.2 H356.8" stroke="#000" stroke-width="2.6" fill="none"/>
<path d="M415.7,167.3 V173.5 M404.8,167.3 H426.8 M404.8,173.5 H426.8" stroke="#000" stroke-width="2.6" fill="none"/>
<path d="M311.9,29.5 V196.8 H451.1" fill="none" stroke="#000" stroke-width="2.4"/>
<path d="M346,196.8 v5 M415.4,196.8 v5" stroke="#000" stroke-width="2.2"/>
<text x="334.5" y="214.7" font-family="'Liberation Sans', Arial, sans-serif" font-weight="bold" font-size="13" textLength="22.1" lengthAdjust="spacingAndGlyphs">Ctrl</text>
<text x="364.8" y="214.7" font-family="'Liberation Sans', Arial, sans-serif" font-weight="bold" font-size="13" textLength="99.3" lengthAdjust="spacingAndGlyphs"><tspan font-weight="normal" font-size="11.0" dy="1.3">α</tspan><tspan dy="-1.3">-Tim-3+</tspan><tspan font-weight="normal" font-size="11.0" dy="1.3">α</tspan><tspan dy="-1.3">-PD-1</tspan></text>
<text x="416.15" y="137.9" text-anchor="middle" font-family="'Liberation Sans', Arial, sans-serif" font-weight="bold" font-size="26" textLength="36.8" lengthAdjust="spacingAndGlyphs">***</text>
<text transform="translate(671.3,110.5) rotate(-90)" text-anchor="middle" font-family="'Liberation Sans', Arial, sans-serif" font-weight="bold" font-size="13.8" textLength="194.5" lengthAdjust="spacingAndGlyphs" xml:space="preserve"><tspan font-weight="normal" font-size="11.3">%</tspan> of TNF-α<tspan dy="-6" font-size="9.7">+</tspan><tspan dy="6"> CD4</tspan><tspan dy="-6" font-size="9.7">+</tspan><tspan dy="6">T cells</tspan></text>
<text transform="translate(693.8,194.26) scale(0.96,1)" text-anchor="end" font-family="'Liberation Sans', Arial, sans-serif" font-weight="bold" font-size="14.4">0</text>
<text transform="translate(693.8,156.36) scale(0.96,1)" text-anchor="end" font-family="'Liberation Sans', Arial, sans-serif" font-weight="bold" font-size="14.4">10</text>
<text transform="translate(693.8,118.46) scale(0.96,1)" text-anchor="end" font-family="'Liberation Sans', Arial, sans-serif" font-weight="bold" font-size="14.4">20</text>
<text transform="translate(693.8,80.56) scale(0.96,1)" text-anchor="end" font-family="'Liberation Sans', Arial, sans-serif" font-weight="bold" font-size="14.4">30</text>
<text transform="translate(693.8,42.66) scale(0.96,1)" text-anchor="end" font-family="'Liberation Sans', Arial, sans-serif" font-weight="bold" font-size="14.4">40</text>
<path d="M695.3,190.1 H700.3 M695.3,152.2 H700.3 M695.3,114.3 H700.3 M695.3,76.4 H700.3 M695.3,38.5 H700.3" stroke="#000" stroke-width="2.2"/>
<rect x="710.3" y="160.1" width="38" height="30" fill="#fff" stroke="#000" stroke-width="2.3"/>
<rect x="767.5" y="137.5" width="37.5" height="52.6" fill="#fff" stroke="#000" stroke-width="2.3"/>
<rect x="723.8" y="128.2" width="4.8" height="4.8" fill="none" stroke="#f86870" stroke-width="1.3"/>
<rect x="730" y="127.7" width="4.8" height="4.8" fill="none" stroke="#f86870" stroke-width="1.3"/>
<rect x="723.8" y="143.5" width="4.8" height="4.8" fill="none" stroke="#f86870" stroke-width="1.3"/>
<rect x="730" y="144.2" width="4.8" height="4.8" fill="none" stroke="#f86870" stroke-width="1.3"/>
<rect x="726.6" y="154" width="4.8" height="4.8" fill="none" stroke="#f86870" stroke-width="1.3"/>
<rect x="726.3" y="166.8" width="4.8" height="4.8" fill="none" stroke="#f86870" stroke-width="1.3"/>
<rect x="711.6" y="170.5" width="4.8" height="4.8" fill="none" stroke="#f86870" stroke-width="1.3"/>
<rect x="717.2" y="171.9" width="4.8" height="4.8" fill="none" stroke="#f86870" stroke-width="1.3"/>
<rect x="723.3" y="174.1" width="4.8" height="4.8" fill="none" stroke="#f86870" stroke-width="1.3"/>
<rect x="729.5" y="174.1" width="4.8" height="4.8" fill="none" stroke="#f86870" stroke-width="1.3"/>
<rect x="735.6" y="171.9" width="4.8" height="4.8" fill="none" stroke="#f86870" stroke-width="1.3"/>
<rect x="741.7" y="169.5" width="4.8" height="4.8" fill="none" stroke="#f86870" stroke-width="1.3"/>
<rect x="777.8" y="69.3" width="4.8" height="4.8" fill="none" stroke="#4e9cf6" stroke-width="1.3"/>
<rect x="783.5" y="70.1" width="4.8" height="4.8" fill="none" stroke="#4e9cf6" stroke-width="1.3"/>
<rect x="790.1" y="69.5" width="4.8" height="4.8" fill="none" stroke="#4e9cf6" stroke-width="1.3"/>
<rect x="777.8" y="102.5" width="4.8" height="4.8" fill="none" stroke="#4e9cf6" stroke-width="1.3"/>
<rect x="783.5" y="103.2" width="4.8" height="4.8" fill="none" stroke="#4e9cf6" stroke-width="1.3"/>
<rect x="790.1" y="101.8" width="4.8" height="4.8" fill="none" stroke="#4e9cf6" stroke-width="1.3"/>
<rect x="774.1" y="129.5" width="4.8" height="4.8" fill="none" stroke="#4e9cf6" stroke-width="1.3"/>
<rect x="793.3" y="127" width="4.8" height="4.8" fill="none" stroke="#4e9cf6" stroke-width="1.3"/>
<rect x="783.6" y="128.6" width="4.8" height="4.8" fill="none" stroke="#4e9cf6" stroke-width="1.3"/>
<rect x="768" y="149.1" width="4.8" height="4.8" fill="none" stroke="#4e9cf6" stroke-width="1.3"/>
<rect x="774.1" y="150.3" width="4.8" height="4.8" fill="none" stroke="#4e9cf6" stroke-width="1.3"/>
<rect x="780.8" y="154" width="4.8" height="4.8" fill="none" stroke="#4e9cf6" stroke-width="1.3"/>
<rect x="786.9" y="154" width="4.8" height="4.8" fill="none" stroke="#4e9cf6" stroke-width="1.3"/>
<rect x="793" y="152.8" width="4.8" height="4.8" fill="none" stroke="#4e9cf6" stroke-width="1.3"/>
<rect x="799.2" y="149.1" width="4.8" height="4.8" fill="none" stroke="#4e9cf6" stroke-width="1.3"/>
<rect x="768" y="168.2" width="4.8" height="4.8" fill="none" stroke="#4e9cf6" stroke-width="1.3"/>
<rect x="774.1" y="170" width="4.8" height="4.8" fill="none" stroke="#4e9cf6" stroke-width="1.3"/>
<rect x="780.8" y="171.2" width="4.8" height="4.8" fill="none" stroke="#4e9cf6" stroke-width="1.3"/>
<rect x="786.9" y="170.7" width="4.8" height="4.8" fill="none" stroke="#4e9cf6" stroke-width="1.3"/>
<rect x="793" y="169.2" width="4.8" height="4.8" fill="none" stroke="#4e9cf6" stroke-width="1.3"/>
<rect x="799.2" y="167.5" width="4.8" height="4.8" fill="none" stroke="#4e9cf6" stroke-width="1.3"/>
<path d="M729.3,155.2 V164.3 M719.6,155.2 H738.5 M719.6,164.3 H738.5" stroke="#000" stroke-width="2.6" fill="none"/>
<path d="M786.2,129.4 V144.1 M776.5,129.4 H795.7 M776.5,144.1 H795.7" stroke="#000" stroke-width="2.6" fill="none"/>
<path d="M700.3,37.5 V190.1 H816.7" fill="none" stroke="#000" stroke-width="2.3"/>
<path d="M729.3,190.1 v5 M786.25,190.1 v5" stroke="#000" stroke-width="2.2"/>
<text x="720" y="205" font-family="'Liberation Sans', Arial, sans-serif" font-weight="bold" font-size="11" textLength="16.4" lengthAdjust="spacingAndGlyphs">Ctrl</text>
<text x="747.4" y="205" font-family="'Liberation Sans', Arial, sans-serif" font-weight="bold" font-size="11" textLength="74.8" lengthAdjust="spacingAndGlyphs"><tspan font-weight="normal" font-size="9.3" dy="1.3">α</tspan><tspan dy="-1.3">-Tim-3+</tspan><tspan font-weight="normal" font-size="9.3" dy="1.3">α</tspan><tspan dy="-1.3">-PD-1</tspan></text>
<text x="786.15" y="60" text-anchor="middle" font-family="'Liberation Sans', Arial, sans-serif" font-weight="bold" font-size="26">*</text>
<text transform="translate(1072.6,110) rotate(-90)" text-anchor="middle" font-family="'Liberation Sans', Arial, sans-serif" font-weight="bold" font-size="18.3" textLength="217" lengthAdjust="spacingAndGlyphs" xml:space="preserve"><tspan font-weight="normal" font-size="15.0">%</tspan> of HLA-DR<tspan dy="-6" font-size="12.8">+</tspan><tspan dy="6"> CD4</tspan><tspan dy="-6" font-size="12.8">+</tspan><tspan dy="6">T cells</tspan></text>
<text transform="translate(1100.9,199.14) scale(0.93,1)" text-anchor="end" font-family="'Liberation Sans', Arial, sans-serif" font-weight="bold" font-size="18">0</text>
<text transform="translate(1100.9,145.48) scale(0.93,1)" text-anchor="end" font-family="'Liberation Sans', Arial, sans-serif" font-weight="bold" font-size="18">20</text>
<text transform="translate(1100.9,91.81) scale(0.93,1)" text-anchor="end" font-family="'Liberation Sans', Arial, sans-serif" font-weight="bold" font-size="18">40</text>
<text transform="translate(1100.9,38.14) scale(0.93,1)" text-anchor="end" font-family="'Liberation Sans', Arial, sans-serif" font-weight="bold" font-size="18">60</text>
<path d="M1102.6,194.2 H1107.6 M1102.6,140.53 H1107.6 M1102.6,86.87 H1107.6 M1102.6,33.2 H1107.6" stroke="#000" stroke-width="2.2"/>
<rect x="1120.2" y="72.5" width="45.3" height="121.7" fill="#fff" stroke="#000" stroke-width="2.6"/>
<rect x="1189.8" y="130.8" width="42.5" height="63.4" fill="#fff" stroke="#000" stroke-width="2.6"/>
<rect x="1133.3" y="48" width="4.8" height="4.8" fill="none" stroke="#f86870" stroke-width="1.3"/>
<rect x="1140.2" y="50.5" width="4.8" height="4.8" fill="none" stroke="#f86870" stroke-width="1.3"/>
<rect x="1147.6" y="48" width="4.8" height="4.8" fill="none" stroke="#f86870" stroke-width="1.3"/>
<rect x="1125.9" y="63.5" width="4.8" height="4.8" fill="none" stroke="#f86870" stroke-width="1.3"/>
<rect x="1133.3" y="66.4" width="4.8" height="4.8" fill="none" stroke="#f86870" stroke-width="1.3"/>
<rect x="1140.2" y="68.1" width="4.8" height="4.8" fill="none" stroke="#f86870" stroke-width="1.3"/>
<rect x="1147.6" y="66.9" width="4.8" height="4.8" fill="none" stroke="#f86870" stroke-width="1.3"/>
<rect x="1154.7" y="65.2" width="4.8" height="4.8" fill="none" stroke="#f86870" stroke-width="1.3"/>
<rect x="1140.2" y="81.7" width="4.8" height="4.8" fill="none" stroke="#f86870" stroke-width="1.3"/>
<rect x="1133.3" y="91.5" width="4.8" height="4.8" fill="none" stroke="#f86870" stroke-width="1.3"/>
<rect x="1140.2" y="93.5" width="4.8" height="4.8" fill="none" stroke="#f86870" stroke-width="1.3"/>
<rect x="1147.6" y="92.2" width="4.8" height="4.8" fill="none" stroke="#f86870" stroke-width="1.3"/>
<rect x="1190.3" y="121.5" width="4.8" height="4.8" fill="none" stroke="#4e9cf6" stroke-width="1.3"/>
<rect x="1195.5" y="123" width="4.8" height="4.8" fill="none" stroke="#4e9cf6" stroke-width="1.3"/>
<rect x="1209.5" y="120.5" width="4.8" height="4.8" fill="none" stroke="#4e9cf6" stroke-width="1.3"/>
<rect x="1223" y="123" width="4.8" height="4.8" fill="none" stroke="#4e9cf6" stroke-width="1.3"/>
<rect x="1227.9" y="121.5" width="4.8" height="4.8" fill="none" stroke="#4e9cf6" stroke-width="1.3"/>
<rect x="1203.4" y="127.1" width="4.8" height="4.8" fill="none" stroke="#4e9cf6" stroke-width="1.3"/>
<rect x="1216.1" y="126.6" width="4.8" height="4.8" fill="none" stroke="#4e9cf6" stroke-width="1.3"/>
<rect x="1209.5" y="137.5" width="4.8" height="4.8" fill="none" stroke="#4e9cf6" stroke-width="1.3"/>
<rect x="1209.5" y="149.7" width="4.8" height="4.8" fill="none" stroke="#4e9cf6" stroke-width="1.3"/>
<path d="M1142.8,67.4 V76.7 M1132,67.4 H1153.7 M1132,76.7 H1153.7" stroke="#000" stroke-width="2.6" fill="none"/>
<path d="M1211.5,127.6 V131.5 M1201.3,127.6 H1221.7 M1201.3,131.5 H1221.7" stroke="#000" stroke-width="2.6" fill="none"/>
<path d="M1107.6,32.2 V194.2 H1247" fill="none" stroke="#000" stroke-width="2.5"/>
<path d="M1142.85,194.2 v5 M1211.05,194.2 v5" stroke="#000" stroke-width="2.2"/>
<text x="1131.7" y="212.1" font-family="'Liberation Sans', Arial, sans-serif" font-weight="bold" font-size="12.5" textLength="21.6" lengthAdjust="spacingAndGlyphs">Ctrl</text>
<text x="1162" y="212.1" font-family="'Liberation Sans', Arial, sans-serif" font-weight="bold" font-size="12.5" textLength="96.2" lengthAdjust="spacingAndGlyphs"><tspan font-weight="normal" font-size="10.6" dy="1.3">α</tspan><tspan dy="-1.3">-Tim-3+</tspan><tspan font-weight="normal" font-size="10.6" dy="1.3">α</tspan><tspan dy="-1.3">-PD-1</tspan></text>
<text x="1211.3" y="104.9" text-anchor="middle" font-family="'Liberation Sans', Arial, sans-serif" font-weight="bold" font-size="26" textLength="34.7" lengthAdjust="spacingAndGlyphs">***</text>
<text transform="translate(1468.4,108) rotate(-90)" text-anchor="middle" font-family="'Liberation Sans', Arial, sans-serif" font-weight="bold" font-size="18.3" textLength="212" lengthAdjust="spacingAndGlyphs" xml:space="preserve"><tspan font-weight="normal" font-size="15.0">%</tspan> of CD127<tspan dy="-6" font-size="12.8">+</tspan><tspan dy="6"> CD4</tspan><tspan dy="-6" font-size="12.8">+</tspan><tspan dy="6">T cells</tspan></text>
<text transform="translate(1497.8,200.69) scale(0.93,1)" text-anchor="end" font-family="'Liberation Sans', Arial, sans-serif" font-weight="bold" font-size="18.7">0</text>
<text transform="translate(1497.8,145.36) scale(0.93,1)" text-anchor="end" font-family="'Liberation Sans', Arial, sans-serif" font-weight="bold" font-size="18.7">20</text>
<text transform="translate(1497.8,90.03) scale(0.93,1)" text-anchor="end" font-family="'Liberation Sans', Arial, sans-serif" font-weight="bold" font-size="18.7">40</text>
<text transform="translate(1497.8,34.69) scale(0.93,1)" text-anchor="end" font-family="'Liberation Sans', Arial, sans-serif" font-weight="bold" font-size="18.7">60</text>
<path d="M1499.7,195.2 H1504.7 M1499.7,139.87 H1504.7 M1499.7,84.53 H1504.7 M1499.7,29.2 H1504.7" stroke="#000" stroke-width="2.2"/>
<rect x="1517.8" y="131" width="45.8" height="64.2" fill="#fff" stroke="#000" stroke-width="2.6"/>
<rect x="1589.6" y="71.2" width="45.4" height="124" fill="#fff" stroke="#000" stroke-width="2.6"/>
<rect x="1523.5" y="111.2" width="4.8" height="4.8" fill="none" stroke="#f86870" stroke-width="1.3"/>
<rect x="1531" y="113.3" width="4.8" height="4.8" fill="none" stroke="#f86870" stroke-width="1.3"/>
<rect x="1538.3" y="114.3" width="4.8" height="4.8" fill="none" stroke="#f86870" stroke-width="1.3"/>
<rect x="1545.6" y="112.7" width="4.8" height="4.8" fill="none" stroke="#f86870" stroke-width="1.3"/>
<rect x="1553.4" y="110.7" width="4.8" height="4.8" fill="none" stroke="#f86870" stroke-width="1.3"/>
<rect x="1538.3" y="122.1" width="4.8" height="4.8" fill="none" stroke="#f86870" stroke-width="1.3"/>
<rect x="1546.1" y="128.9" width="4.8" height="4.8" fill="none" stroke="#f86870" stroke-width="1.3"/>
<rect x="1531" y="135.9" width="4.8" height="4.8" fill="none" stroke="#f86870" stroke-width="1.3"/>
<rect x="1538.3" y="136.6" width="4.8" height="4.8" fill="none" stroke="#f86870" stroke-width="1.3"/>
<rect x="1531" y="146.3" width="4.8" height="4.8" fill="none" stroke="#f86870" stroke-width="1.3"/>
<rect x="1538.3" y="147.1" width="4.8" height="4.8" fill="none" stroke="#f86870" stroke-width="1.3"/>
<rect x="1545.6" y="146.3" width="4.8" height="4.8" fill="none" stroke="#f86870" stroke-width="1.3"/>
<rect x="1609.3" y="51.4" width="4.8" height="4.8" fill="none" stroke="#4e9cf6" stroke-width="1.3"/>
<rect x="1605.9" y="63.9" width="4.8" height="4.8" fill="none" stroke="#4e9cf6" stroke-width="1.3"/>
<rect x="1613.7" y="67.8" width="4.8" height="4.8" fill="none" stroke="#4e9cf6" stroke-width="1.3"/>
<rect x="1602" y="72.2" width="4.8" height="4.8" fill="none" stroke="#4e9cf6" stroke-width="1.3"/>
<rect x="1609.8" y="76.9" width="4.8" height="4.8" fill="none" stroke="#4e9cf6" stroke-width="1.3"/>
<rect x="1617.1" y="76.1" width="4.8" height="4.8" fill="none" stroke="#4e9cf6" stroke-width="1.3"/>
<path d="M1540.7,125.3 V133.6 M1529.5,125.3 H1551.9 M1529.5,133.6 H1551.9" stroke="#000" stroke-width="2.6" fill="none"/>
<path d="M1612,66.8 V74.6 M1600.5,66.8 H1623.4 M1600.5,74.6 H1623.4" stroke="#000" stroke-width="2.6" fill="none"/>
<path d="M1504.7,28.2 V195.2 H1647.3" fill="none" stroke="#000" stroke-width="2.6"/>
<path d="M1540.7,195.2 v5 M1612.3,195.2 v5" stroke="#000" stroke-width="2.2"/>
<text x="1528.9" y="213.7" font-family="'Liberation Sans', Arial, sans-serif" font-weight="bold" font-size="13" textLength="22.2" lengthAdjust="spacingAndGlyphs">Ctrl</text>
<text x="1560.2" y="213.7" font-family="'Liberation Sans', Arial, sans-serif" font-weight="bold" font-size="13" textLength="100.8" lengthAdjust="spacingAndGlyphs"><tspan font-weight="normal" font-size="11.0" dy="1.3">α</tspan><tspan dy="-1.3">-Tim-3+</tspan><tspan font-weight="normal" font-size="11.0" dy="1.3">α</tspan><tspan dy="-1.3">-PD-1</tspan></text>
<text x="1612.45" y="42.5" text-anchor="middle" font-family="'Liberation Sans', Arial, sans-serif" font-weight="bold" font-size="26" textLength="37.4" lengthAdjust="spacingAndGlyphs">***</text>
<text transform="translate(273,328) rotate(-90)" text-anchor="middle" font-family="'Liberation Sans', Arial, sans-serif" font-weight="bold" font-size="17.5" textLength="186" lengthAdjust="spacingAndGlyphs" xml:space="preserve"><tspan font-weight="normal" font-size="14.3">%</tspan> of IFN-γ<tspan dy="-6" font-size="12.2">+</tspan><tspan dy="6"> CD4</tspan><tspan dy="-6" font-size="12.2">+</tspan><tspan dy="6">T cells</tspan></text>
<text transform="translate(296.3,412.79) scale(0.82,1)" text-anchor="end" font-family="'Liberation Sans', Arial, sans-serif" font-weight="bold" font-size="17">0</text>
<text transform="translate(296.3,361.82) scale(0.82,1)" text-anchor="end" font-family="'Liberation Sans', Arial, sans-serif" font-weight="bold" font-size="17">10</text>
<text transform="translate(296.3,310.85) scale(0.82,1)" text-anchor="end" font-family="'Liberation Sans', Arial, sans-serif" font-weight="bold" font-size="17">20</text>
<text transform="translate(296.3,259.89) scale(0.82,1)" text-anchor="end" font-family="'Liberation Sans', Arial, sans-serif" font-weight="bold" font-size="17">30</text>
<path d="M298,407.9 H303 M298,356.93 H303 M298,305.97 H303 M298,255 H303" stroke="#000" stroke-width="2.2"/>
<rect x="313.7" y="372.7" width="39.9" height="35.2" fill="#fff" stroke="#000" stroke-width="2.6"/>
<rect x="375.1" y="338.1" width="38.5" height="69.8" fill="#fff" stroke="#000" stroke-width="2.6"/>
<rect x="321.4" y="314.7" width="4.8" height="4.8" fill="none" stroke="#f86870" stroke-width="1.3"/>
<rect x="328" y="319.3" width="4.8" height="4.8" fill="none" stroke="#f86870" stroke-width="1.3"/>
<rect x="334.3" y="316.7" width="4.8" height="4.8" fill="none" stroke="#f86870" stroke-width="1.3"/>
<rect x="341.1" y="312.7" width="4.8" height="4.8" fill="none" stroke="#f86870" stroke-width="1.3"/>
<rect x="324.7" y="370.3" width="4.8" height="4.8" fill="none" stroke="#f86870" stroke-width="1.3"/>
<rect x="331" y="370.6" width="4.8" height="4.8" fill="none" stroke="#f86870" stroke-width="1.3"/>
<rect x="338.1" y="370.8" width="4.8" height="4.8" fill="none" stroke="#f86870" stroke-width="1.3"/>
<rect x="331" y="383" width="4.8" height="4.8" fill="none" stroke="#f86870" stroke-width="1.3"/>
<rect x="317.9" y="390.6" width="4.8" height="4.8" fill="none" stroke="#f86870" stroke-width="1.3"/>
<rect x="324.7" y="391.1" width="4.8" height="4.8" fill="none" stroke="#f86870" stroke-width="1.3"/>
<rect x="331" y="391.8" width="4.8" height="4.8" fill="none" stroke="#f86870" stroke-width="1.3"/>
<rect x="337.8" y="391.1" width="4.8" height="4.8" fill="none" stroke="#f86870" stroke-width="1.3"/>
<rect x="344.4" y="390.6" width="4.8" height="4.8" fill="none" stroke="#f86870" stroke-width="1.3"/>
<rect x="324.7" y="403.2" width="4.8" height="4.8" fill="none" stroke="#f86870" stroke-width="1.3"/>
<rect x="331" y="403.2" width="4.8" height="4.8" fill="none" stroke="#f86870" stroke-width="1.3"/>
<rect x="337.8" y="403.2" width="4.8" height="4.8" fill="none" stroke="#f86870" stroke-width="1.3"/>
<rect x="376" y="270.5" width="4.8" height="4.8" fill="none" stroke="#4e9cf6" stroke-width="1.3"/>
<rect x="382.3" y="273.5" width="4.8" height="4.8" fill="none" stroke="#4e9cf6" stroke-width="1.3"/>
<rect x="388.6" y="275" width="4.8" height="4.8" fill="none" stroke="#4e9cf6" stroke-width="1.3"/>
<rect x="395.5" y="273.5" width="4.8" height="4.8" fill="none" stroke="#4e9cf6" stroke-width="1.3"/>
<rect x="401.8" y="270.5" width="4.8" height="4.8" fill="none" stroke="#4e9cf6" stroke-width="1.3"/>
<rect x="408.6" y="269.7" width="4.8" height="4.8" fill="none" stroke="#4e9cf6" stroke-width="1.3"/>
<rect x="384.9" y="376.2" width="4.8" height="4.8" fill="none" stroke="#4e9cf6" stroke-width="1.3"/>
<rect x="391.7" y="377.2" width="4.8" height="4.8" fill="none" stroke="#4e9cf6" stroke-width="1.3"/>
<rect x="398.5" y="376.2" width="4.8" height="4.8" fill="none" stroke="#4e9cf6" stroke-width="1.3"/>
<rect x="379" y="383" width="4.8" height="4.8" fill="none" stroke="#4e9cf6" stroke-width="1.3"/>
<rect x="385.4" y="384.2" width="4.8" height="4.8" fill="none" stroke="#4e9cf6" stroke-width="1.3"/>
<rect x="404.8" y="383" width="4.8" height="4.8" fill="none" stroke="#4e9cf6" stroke-width="1.3"/>
<rect x="391.7" y="389.3" width="4.8" height="4.8" fill="none" stroke="#4e9cf6" stroke-width="1.3"/>
<rect x="398.5" y="388.6" width="4.8" height="4.8" fill="none" stroke="#4e9cf6" stroke-width="1.3"/>
<path d="M334,363.9 V380.8 M324.5,363.9 H343.5 M324.5,380.8 H343.5" stroke="#000" stroke-width="2.6" fill="none"/>
<path d="M394.4,322.2 V352.5 M384.7,322.2 H404.2 M384.7,352.5 H404.2" stroke="#000" stroke-width="2.6" fill="none"/>
<path d="M303,254 V407.9 H424.4" fill="none" stroke="#000" stroke-width="2.3"/>
<path d="M333.65,407.9 v5 M394.35,407.9 v5" stroke="#000" stroke-width="2.2"/>
<text x="323.7" y="425.5" font-family="'Liberation Sans', Arial, sans-serif" font-weight="bold" font-size="12.8" textLength="19" lengthAdjust="spacingAndGlyphs">Ctrl</text>
<text x="349" y="425.5" font-family="'Liberation Sans', Arial, sans-serif" font-weight="bold" font-size="12.8" textLength="88.7" lengthAdjust="spacingAndGlyphs"><tspan font-weight="normal" font-size="10.9" dy="1.3">α</tspan><tspan dy="-1.3">-Tim-3+</tspan><tspan font-weight="normal" font-size="10.9" dy="1.3">α</tspan><tspan dy="-1.3">-PD-1</tspan></text>
<text x="395.45" y="263.75" text-anchor="middle" font-family="'Liberation Sans', Arial, sans-serif" font-weight="bold" font-size="26">*</text>
<text transform="translate(672.6,335.5) rotate(-90)" text-anchor="middle" font-family="'Liberation Sans', Arial, sans-serif" font-weight="bold" font-size="14.8" textLength="194.5" lengthAdjust="spacingAndGlyphs" xml:space="preserve"><tspan font-weight="normal" font-size="12.1">%</tspan> of CD69<tspan dy="-6" font-size="10.4">+</tspan><tspan dy="6"> CD4</tspan><tspan dy="-6" font-size="10.4">+</tspan><tspan dy="6">T cells</tspan></text>
<text transform="translate(696.3,424.27) scale(0.78,1)" text-anchor="end" font-family="'Liberation Sans', Arial, sans-serif" font-weight="bold" font-size="17.8">0</text>
<text transform="translate(696.3,392.83) scale(0.78,1)" text-anchor="end" font-family="'Liberation Sans', Arial, sans-serif" font-weight="bold" font-size="17.8">2</text>
<text transform="translate(696.3,361.39) scale(0.78,1)" text-anchor="end" font-family="'Liberation Sans', Arial, sans-serif" font-weight="bold" font-size="17.8">4</text>
<text transform="translate(696.3,329.95) scale(0.78,1)" text-anchor="end" font-family="'Liberation Sans', Arial, sans-serif" font-weight="bold" font-size="17.8">6</text>
<text transform="translate(696.3,298.51) scale(0.78,1)" text-anchor="end" font-family="'Liberation Sans', Arial, sans-serif" font-weight="bold" font-size="17.8">8</text>
<text transform="translate(696.3,267.07) scale(0.78,1)" text-anchor="end" font-family="'Liberation Sans', Arial, sans-serif" font-weight="bold" font-size="17.8">10</text>
<path d="M698.6,418.8 H703.6 M698.6,387.36 H703.6 M698.6,355.92 H703.6 M698.6,324.48 H703.6 M698.6,293.04 H703.6 M698.6,261.6 H703.6" stroke="#000" stroke-width="2.2"/>
<rect x="714.7" y="310.8" width="38.6" height="108" fill="#fff" stroke="#000" stroke-width="2.6"/>
<rect x="776.2" y="374.7" width="39.8" height="44.1" fill="#fff" stroke="#000" stroke-width="2.6"/>
<rect x="725.4" y="279.6" width="4.8" height="4.8" fill="none" stroke="#f86870" stroke-width="1.3"/>
<rect x="732" y="280.9" width="4.8" height="4.8" fill="none" stroke="#f86870" stroke-width="1.3"/>
<rect x="738.6" y="277.9" width="4.8" height="4.8" fill="none" stroke="#f86870" stroke-width="1.3"/>
<rect x="719.2" y="285.8" width="4.8" height="4.8" fill="none" stroke="#f86870" stroke-width="1.3"/>
<rect x="735.2" y="287.5" width="4.8" height="4.8" fill="none" stroke="#f86870" stroke-width="1.3"/>
<rect x="741.8" y="286.3" width="4.8" height="4.8" fill="none" stroke="#f86870" stroke-width="1.3"/>
<rect x="725.4" y="290" width="4.8" height="4.8" fill="none" stroke="#f86870" stroke-width="1.3"/>
<rect x="728.8" y="296.3" width="4.8" height="4.8" fill="none" stroke="#f86870" stroke-width="1.3"/>
<rect x="735.2" y="301.8" width="4.8" height="4.8" fill="none" stroke="#f86870" stroke-width="1.3"/>
<rect x="732" y="324.6" width="4.8" height="4.8" fill="none" stroke="#f86870" stroke-width="1.3"/>
<rect x="728.8" y="333" width="4.8" height="4.8" fill="none" stroke="#f86870" stroke-width="1.3"/>
<rect x="735.2" y="334.9" width="4.8" height="4.8" fill="none" stroke="#f86870" stroke-width="1.3"/>
<rect x="725.4" y="342.3" width="4.8" height="4.8" fill="none" stroke="#f86870" stroke-width="1.3"/>
<rect x="732" y="347.2" width="4.8" height="4.8" fill="none" stroke="#f86870" stroke-width="1.3"/>
<rect x="738.6" y="344.8" width="4.8" height="4.8" fill="none" stroke="#f86870" stroke-width="1.3"/>
<rect x="790.3" y="319.4" width="4.8" height="4.8" fill="none" stroke="#4e9cf6" stroke-width="1.3"/>
<rect x="796.4" y="323.9" width="4.8" height="4.8" fill="none" stroke="#4e9cf6" stroke-width="1.3"/>
<rect x="793.4" y="342.3" width="4.8" height="4.8" fill="none" stroke="#4e9cf6" stroke-width="1.3"/>
<rect x="786.8" y="363.7" width="4.8" height="4.8" fill="none" stroke="#4e9cf6" stroke-width="1.3"/>
<rect x="799.6" y="362.7" width="4.8" height="4.8" fill="none" stroke="#4e9cf6" stroke-width="1.3"/>
<rect x="793.4" y="370.1" width="4.8" height="4.8" fill="none" stroke="#4e9cf6" stroke-width="1.3"/>
<rect x="774.5" y="387.3" width="4.8" height="4.8" fill="none" stroke="#4e9cf6" stroke-width="1.3"/>
<rect x="780.4" y="388.5" width="4.8" height="4.8" fill="none" stroke="#4e9cf6" stroke-width="1.3"/>
<rect x="785.3" y="391.5" width="4.8" height="4.8" fill="none" stroke="#4e9cf6" stroke-width="1.3"/>
<rect x="790.5" y="393.9" width="4.8" height="4.8" fill="none" stroke="#4e9cf6" stroke-width="1.3"/>
<rect x="795.9" y="393.2" width="4.8" height="4.8" fill="none" stroke="#4e9cf6" stroke-width="1.3"/>
<rect x="801.3" y="391" width="4.8" height="4.8" fill="none" stroke="#4e9cf6" stroke-width="1.3"/>
<rect x="806.2" y="388.5" width="4.8" height="4.8" fill="none" stroke="#4e9cf6" stroke-width="1.3"/>
<rect x="811.4" y="386.5" width="4.8" height="4.8" fill="none" stroke="#4e9cf6" stroke-width="1.3"/>
<path d="M734.4,302.4 V316.4 M724.6,302.4 H744.2 M724.6,316.4 H744.2" stroke="#000" stroke-width="2.6" fill="none"/>
<path d="M796.1,367.6 V381.6 M786.5,367.6 H805.7 M786.5,381.6 H805.7" stroke="#000" stroke-width="2.6" fill="none"/>
<path d="M703.6,260.6 V418.8 H827.6" fill="none" stroke="#000" stroke-width="1.7"/>
<path d="M734,418.8 v5 M796.1,418.8 v5" stroke="#000" stroke-width="2.2"/>
<text x="724.2" y="436.2" font-family="'Liberation Sans', Arial, sans-serif" font-weight="bold" font-size="12.5" textLength="19" lengthAdjust="spacingAndGlyphs">Ctrl</text>
<text x="751" y="436.2" font-family="'Liberation Sans', Arial, sans-serif" font-weight="bold" font-size="12.5" textLength="87.2" lengthAdjust="spacingAndGlyphs"><tspan font-weight="normal" font-size="10.6" dy="1.3">α</tspan><tspan dy="-1.3">-Tim-3+</tspan><tspan font-weight="normal" font-size="10.6" dy="1.3">α</tspan><tspan dy="-1.3">-PD-1</tspan></text>
<text x="797.45" y="309.3" text-anchor="middle" font-family="'Liberation Sans', Arial, sans-serif" font-weight="bold" font-size="26" textLength="31.8" lengthAdjust="spacingAndGlyphs">***</text>
<text transform="translate(1073,330.5) rotate(-90)" text-anchor="middle" font-family="'Liberation Sans', Arial, sans-serif" font-weight="bold" font-size="17.5" textLength="184.5" lengthAdjust="spacingAndGlyphs" xml:space="preserve"><tspan font-weight="normal" font-size="14.3">%</tspan> of IL-4<tspan dy="-6" font-size="12.2">+</tspan><tspan dy="6"> CD4</tspan><tspan dy="-6" font-size="12.2">+</tspan><tspan dy="6">T cells</tspan></text>
<text transform="translate(1101.9,420.26) scale(0.92,1)" text-anchor="end" font-family="'Liberation Sans', Arial, sans-serif" font-weight="bold" font-size="18.6">0</text>
<text transform="translate(1101.9,380.36) scale(0.92,1)" text-anchor="end" font-family="'Liberation Sans', Arial, sans-serif" font-weight="bold" font-size="18.6">20</text>
<text transform="translate(1101.9,340.46) scale(0.92,1)" text-anchor="end" font-family="'Liberation Sans', Arial, sans-serif" font-weight="bold" font-size="18.6">40</text>
<text transform="translate(1101.9,300.56) scale(0.92,1)" text-anchor="end" font-family="'Liberation Sans', Arial, sans-serif" font-weight="bold" font-size="18.6">60</text>
<text transform="translate(1101.9,260.66) scale(0.92,1)" text-anchor="end" font-family="'Liberation Sans', Arial, sans-serif" font-weight="bold" font-size="18.6">80</text>
<path d="M1103.8,414.8 H1108.8 M1103.8,374.9 H1108.8 M1103.8,335 H1108.8 M1103.8,295.1 H1108.8 M1103.8,255.2 H1108.8" stroke="#000" stroke-width="2.2"/>
<rect x="1121.4" y="331" width="44.3" height="83.8" fill="#fff" stroke="#000" stroke-width="2.2"/>
<rect x="1189.8" y="356.3" width="42.2" height="58.5" fill="#fff" stroke="#000" stroke-width="2.2"/>
<rect x="1133.5" y="314" width="4.8" height="4.8" fill="none" stroke="#f86870" stroke-width="1.3"/>
<rect x="1140.6" y="314.7" width="4.8" height="4.8" fill="none" stroke="#f86870" stroke-width="1.3"/>
<rect x="1148.1" y="312.2" width="4.8" height="4.8" fill="none" stroke="#f86870" stroke-width="1.3"/>
<rect x="1122.3" y="333.2" width="4.8" height="4.8" fill="none" stroke="#f86870" stroke-width="1.3"/>
<rect x="1129.7" y="335" width="4.8" height="4.8" fill="none" stroke="#f86870" stroke-width="1.3"/>
<rect x="1137.3" y="336.2" width="4.8" height="4.8" fill="none" stroke="#f86870" stroke-width="1.3"/>
<rect x="1144.4" y="335.7" width="4.8" height="4.8" fill="none" stroke="#f86870" stroke-width="1.3"/>
<rect x="1151.4" y="334.5" width="4.8" height="4.8" fill="none" stroke="#f86870" stroke-width="1.3"/>
<rect x="1158.8" y="332.9" width="4.8" height="4.8" fill="none" stroke="#f86870" stroke-width="1.3"/>
<rect x="1202" y="276.8" width="4.8" height="4.8" fill="none" stroke="#4e9cf6" stroke-width="1.3"/>
<rect x="1209.4" y="278.8" width="4.8" height="4.8" fill="none" stroke="#4e9cf6" stroke-width="1.3"/>
<rect x="1217" y="276.8" width="4.8" height="4.8" fill="none" stroke="#4e9cf6" stroke-width="1.3"/>
<rect x="1191.2" y="297.8" width="4.8" height="4.8" fill="none" stroke="#4e9cf6" stroke-width="1.3"/>
<rect x="1198.2" y="300.8" width="4.8" height="4.8" fill="none" stroke="#4e9cf6" stroke-width="1.3"/>
<rect x="1205.6" y="302.1" width="4.8" height="4.8" fill="none" stroke="#4e9cf6" stroke-width="1.3"/>
<rect x="1213.2" y="302.8" width="4.8" height="4.8" fill="none" stroke="#4e9cf6" stroke-width="1.3"/>
<rect x="1219.8" y="301.3" width="4.8" height="4.8" fill="none" stroke="#4e9cf6" stroke-width="1.3"/>
<rect x="1226.6" y="299.5" width="4.8" height="4.8" fill="none" stroke="#4e9cf6" stroke-width="1.3"/>
<rect x="1202" y="388.1" width="4.8" height="4.8" fill="none" stroke="#4e9cf6" stroke-width="1.3"/>
<rect x="1209.4" y="387.6" width="4.8" height="4.8" fill="none" stroke="#4e9cf6" stroke-width="1.3"/>
<rect x="1217" y="388.1" width="4.8" height="4.8" fill="none" stroke="#4e9cf6" stroke-width="1.3"/>
<rect x="1198.2" y="391.9" width="4.8" height="4.8" fill="none" stroke="#4e9cf6" stroke-width="1.3"/>
<rect x="1219.5" y="392.4" width="4.8" height="4.8" fill="none" stroke="#4e9cf6" stroke-width="1.3"/>
<rect x="1205.6" y="398.2" width="4.8" height="4.8" fill="none" stroke="#4e9cf6" stroke-width="1.3"/>
<rect x="1213.2" y="399" width="4.8" height="4.8" fill="none" stroke="#4e9cf6" stroke-width="1.3"/>
<rect x="1195" y="400.7" width="4.8" height="4.8" fill="none" stroke="#4e9cf6" stroke-width="1.3"/>
<rect x="1202" y="402" width="4.8" height="4.8" fill="none" stroke="#4e9cf6" stroke-width="1.3"/>
<rect x="1222.8" y="402" width="4.8" height="4.8" fill="none" stroke="#4e9cf6" stroke-width="1.3"/>
<rect x="1209.4" y="408.3" width="4.8" height="4.8" fill="none" stroke="#4e9cf6" stroke-width="1.3"/>
<rect x="1217" y="408.3" width="4.8" height="4.8" fill="none" stroke="#4e9cf6" stroke-width="1.3"/>
<path d="M1143.3,326.5 V333.6 M1132.3,326.5 H1153.8 M1132.3,333.6 H1153.8" stroke="#000" stroke-width="2.6" fill="none"/>
<path d="M1211.5,342.9 V367 M1201.2,342.9 H1221.9 M1201.2,367 H1221.9" stroke="#000" stroke-width="2.6" fill="none"/>
<path d="M1108.8,254.2 V414.8 H1245.4" fill="none" stroke="#000" stroke-width="1.8"/>
<path d="M1143.55,414.8 v5 M1210.9,414.8 v5" stroke="#000" stroke-width="2.2"/>
<text x="1131.7" y="432.9" font-family="'Liberation Sans', Arial, sans-serif" font-weight="bold" font-size="12.5" textLength="21.8" lengthAdjust="spacingAndGlyphs">Ctrl</text>
<text x="1161.8" y="432.9" font-family="'Liberation Sans', Arial, sans-serif" font-weight="bold" font-size="12.5" textLength="96.4" lengthAdjust="spacingAndGlyphs"><tspan font-weight="normal" font-size="10.6" dy="1.3">α</tspan><tspan dy="-1.3">-Tim-3+</tspan><tspan font-weight="normal" font-size="10.6" dy="1.3">α</tspan><tspan dy="-1.3">-PD-1</tspan></text>
<text x="1212.55" y="266.5" text-anchor="middle" font-family="'Liberation Sans', Arial, sans-serif" font-weight="bold" font-size="26">*</text>
<text transform="translate(1470.6,330.5) rotate(-90)" text-anchor="middle" font-family="'Liberation Sans', Arial, sans-serif" font-weight="bold" font-size="18" textLength="194.4" lengthAdjust="spacingAndGlyphs" xml:space="preserve"><tspan font-weight="normal" font-size="14.8">%</tspan> of IL-10<tspan dy="-6" font-size="12.6">+</tspan><tspan dy="6"> CD4</tspan><tspan dy="-6" font-size="12.6">+</tspan><tspan dy="6">T cells</tspan></text>
<text transform="translate(1498,422.56) scale(0.9,1)" text-anchor="end" font-family="'Liberation Sans', Arial, sans-serif" font-weight="bold" font-size="18.6">0</text>
<text transform="translate(1498,382.26) scale(0.9,1)" text-anchor="end" font-family="'Liberation Sans', Arial, sans-serif" font-weight="bold" font-size="18.6">5</text>
<text transform="translate(1498,341.96) scale(0.9,1)" text-anchor="end" font-family="'Liberation Sans', Arial, sans-serif" font-weight="bold" font-size="18.6">10</text>
<text transform="translate(1498,301.66) scale(0.9,1)" text-anchor="end" font-family="'Liberation Sans', Arial, sans-serif" font-weight="bold" font-size="18.6">15</text>
<text transform="translate(1498,261.36) scale(0.9,1)" text-anchor="end" font-family="'Liberation Sans', Arial, sans-serif" font-weight="bold" font-size="18.6">20</text>
<path d="M1500.7,416.4 H1505.7 M1500.7,376.1 H1505.7 M1500.7,335.8 H1505.7 M1500.7,295.5 H1505.7 M1500.7,255.2 H1505.7" stroke="#000" stroke-width="2.2"/>
<rect x="1518.7" y="389.7" width="43.7" height="26.7" fill="#fff" stroke="#000" stroke-width="2.6"/>
<rect x="1587.7" y="407.7" width="44.3" height="8.7" fill="#fff" stroke="#000" stroke-width="2.6"/>
<rect x="1538" y="291.2" width="4.8" height="4.8" fill="none" stroke="#f86870" stroke-width="1.3"/>
<rect x="1538" y="306.3" width="4.8" height="4.8" fill="none" stroke="#f86870" stroke-width="1.3"/>
<rect x="1538" y="325.6" width="4.8" height="4.8" fill="none" stroke="#f86870" stroke-width="1.3"/>
<rect x="1531" y="345.1" width="4.8" height="4.8" fill="none" stroke="#f86870" stroke-width="1.3"/>
<rect x="1538" y="345.6" width="4.8" height="4.8" fill="none" stroke="#f86870" stroke-width="1.3"/>
<rect x="1545.6" y="341.3" width="4.8" height="4.8" fill="none" stroke="#f86870" stroke-width="1.3"/>
<rect x="1541.6" y="376.7" width="4.8" height="4.8" fill="none" stroke="#f86870" stroke-width="1.3"/>
<rect x="1534.8" y="383" width="4.8" height="4.8" fill="none" stroke="#f86870" stroke-width="1.3"/>
<rect x="1534.8" y="390.6" width="4.8" height="4.8" fill="none" stroke="#f86870" stroke-width="1.3"/>
<rect x="1541.6" y="395.6" width="4.8" height="4.8" fill="none" stroke="#f86870" stroke-width="1.3"/>
<rect x="1519.1" y="412.9" width="4.8" height="4.8" fill="none" stroke="#f86870" stroke-width="1.3"/>
<rect x="1522.1" y="412.9" width="4.8" height="4.8" fill="none" stroke="#f86870" stroke-width="1.3"/>
<rect x="1525.1" y="412.9" width="4.8" height="4.8" fill="none" stroke="#f86870" stroke-width="1.3"/>
<rect x="1528.1" y="412.9" width="4.8" height="4.8" fill="none" stroke="#f86870" stroke-width="1.3"/>
<rect x="1531.1" y="412.9" width="4.8" height="4.8" fill="none" stroke="#f86870" stroke-width="1.3"/>
<rect x="1534.1" y="412.9" width="4.8" height="4.8" fill="none" stroke="#f86870" stroke-width="1.3"/>
<rect x="1537.1" y="412.9" width="4.8" height="4.8" fill="none" stroke="#f86870" stroke-width="1.3"/>
<rect x="1540.1" y="412.9" width="4.8" height="4.8" fill="none" stroke="#f86870" stroke-width="1.3"/>
<rect x="1543.1" y="412.9" width="4.8" height="4.8" fill="none" stroke="#f86870" stroke-width="1.3"/>
<rect x="1546.1" y="412.9" width="4.8" height="4.8" fill="none" stroke="#f86870" stroke-width="1.3"/>
<rect x="1549.1" y="412.9" width="4.8" height="4.8" fill="none" stroke="#f86870" stroke-width="1.3"/>
<rect x="1552.1" y="412.9" width="4.8" height="4.8" fill="none" stroke="#f86870" stroke-width="1.3"/>
<rect x="1555.1" y="412.9" width="4.8" height="4.8" fill="none" stroke="#f86870" stroke-width="1.3"/>
<rect x="1558.1" y="412.9" width="4.8" height="4.8" fill="none" stroke="#f86870" stroke-width="1.3"/>
<rect x="1520.6" y="411.4" width="4.8" height="4.8" fill="none" stroke="#f86870" stroke-width="1.3"/>
<rect x="1523.6" y="411.4" width="4.8" height="4.8" fill="none" stroke="#f86870" stroke-width="1.3"/>
<rect x="1526.6" y="411.4" width="4.8" height="4.8" fill="none" stroke="#f86870" stroke-width="1.3"/>
<rect x="1529.6" y="411.4" width="4.8" height="4.8" fill="none" stroke="#f86870" stroke-width="1.3"/>
<rect x="1532.6" y="411.4" width="4.8" height="4.8" fill="none" stroke="#f86870" stroke-width="1.3"/>
<rect x="1535.6" y="411.4" width="4.8" height="4.8" fill="none" stroke="#f86870" stroke-width="1.3"/>
<rect x="1538.6" y="411.4" width="4.8" height="4.8" fill="none" stroke="#f86870" stroke-width="1.3"/>
<rect x="1541.6" y="411.4" width="4.8" height="4.8" fill="none" stroke="#f86870" stroke-width="1.3"/>
<rect x="1544.6" y="411.4" width="4.8" height="4.8" fill="none" stroke="#f86870" stroke-width="1.3"/>
<rect x="1547.6" y="411.4" width="4.8" height="4.8" fill="none" stroke="#f86870" stroke-width="1.3"/>
<rect x="1550.6" y="411.4" width="4.8" height="4.8" fill="none" stroke="#f86870" stroke-width="1.3"/>
<rect x="1553.6" y="411.4" width="4.8" height="4.8" fill="none" stroke="#f86870" stroke-width="1.3"/>
<rect x="1556.6" y="411.4" width="4.8" height="4.8" fill="none" stroke="#f86870" stroke-width="1.3"/>
<rect x="1607.6" y="353.9" width="4.8" height="4.8" fill="none" stroke="#4e9cf6" stroke-width="1.3"/>
<rect x="1588.4" y="389.3" width="4.8" height="4.8" fill="none" stroke="#4e9cf6" stroke-width="1.3"/>
<rect x="1593.7" y="394.4" width="4.8" height="4.8" fill="none" stroke="#4e9cf6" stroke-width="1.3"/>
<rect x="1598.5" y="396.2" width="4.8" height="4.8" fill="none" stroke="#4e9cf6" stroke-width="1.3"/>
<rect x="1603.1" y="396.4" width="4.8" height="4.8" fill="none" stroke="#4e9cf6" stroke-width="1.3"/>
<rect x="1608.1" y="396.9" width="4.8" height="4.8" fill="none" stroke="#4e9cf6" stroke-width="1.3"/>
<rect x="1613.2" y="396.2" width="4.8" height="4.8" fill="none" stroke="#4e9cf6" stroke-width="1.3"/>
<rect x="1617.7" y="395.1" width="4.8" height="4.8" fill="none" stroke="#4e9cf6" stroke-width="1.3"/>
<rect x="1622.5" y="390.6" width="4.8" height="4.8" fill="none" stroke="#4e9cf6" stroke-width="1.3"/>
<rect x="1627.6" y="389.3" width="4.8" height="4.8" fill="none" stroke="#4e9cf6" stroke-width="1.3"/>
<rect x="1587.8" y="412.9" width="4.8" height="4.8" fill="none" stroke="#4e9cf6" stroke-width="1.3"/>
<rect x="1590.8" y="412.9" width="4.8" height="4.8" fill="none" stroke="#4e9cf6" stroke-width="1.3"/>
<rect x="1593.8" y="412.9" width="4.8" height="4.8" fill="none" stroke="#4e9cf6" stroke-width="1.3"/>
<rect x="1596.8" y="412.9" width="4.8" height="4.8" fill="none" stroke="#4e9cf6" stroke-width="1.3"/>
<rect x="1599.8" y="412.9" width="4.8" height="4.8" fill="none" stroke="#4e9cf6" stroke-width="1.3"/>
<rect x="1602.8" y="412.9" width="4.8" height="4.8" fill="none" stroke="#4e9cf6" stroke-width="1.3"/>
<rect x="1605.8" y="412.9" width="4.8" height="4.8" fill="none" stroke="#4e9cf6" stroke-width="1.3"/>
<rect x="1608.8" y="412.9" width="4.8" height="4.8" fill="none" stroke="#4e9cf6" stroke-width="1.3"/>
<rect x="1611.8" y="412.9" width="4.8" height="4.8" fill="none" stroke="#4e9cf6" stroke-width="1.3"/>
<rect x="1614.8" y="412.9" width="4.8" height="4.8" fill="none" stroke="#4e9cf6" stroke-width="1.3"/>
<rect x="1617.8" y="412.9" width="4.8" height="4.8" fill="none" stroke="#4e9cf6" stroke-width="1.3"/>
<rect x="1620.8" y="412.9" width="4.8" height="4.8" fill="none" stroke="#4e9cf6" stroke-width="1.3"/>
<rect x="1623.8" y="412.9" width="4.8" height="4.8" fill="none" stroke="#4e9cf6" stroke-width="1.3"/>
<rect x="1626.8" y="412.9" width="4.8" height="4.8" fill="none" stroke="#4e9cf6" stroke-width="1.3"/>
<rect x="1589.3" y="411.4" width="4.8" height="4.8" fill="none" stroke="#4e9cf6" stroke-width="1.3"/>
<rect x="1592.3" y="411.4" width="4.8" height="4.8" fill="none" stroke="#4e9cf6" stroke-width="1.3"/>
<rect x="1595.3" y="411.4" width="4.8" height="4.8" fill="none" stroke="#4e9cf6" stroke-width="1.3"/>
<rect x="1598.3" y="411.4" width="4.8" height="4.8" fill="none" stroke="#4e9cf6" stroke-width="1.3"/>
<rect x="1601.3" y="411.4" width="4.8" height="4.8" fill="none" stroke="#4e9cf6" stroke-width="1.3"/>
<rect x="1604.3" y="411.4" width="4.8" height="4.8" fill="none" stroke="#4e9cf6" stroke-width="1.3"/>
<rect x="1607.3" y="411.4" width="4.8" height="4.8" fill="none" stroke="#4e9cf6" stroke-width="1.3"/>
<rect x="1610.3" y="411.4" width="4.8" height="4.8" fill="none" stroke="#4e9cf6" stroke-width="1.3"/>
<rect x="1613.3" y="411.4" width="4.8" height="4.8" fill="none" stroke="#4e9cf6" stroke-width="1.3"/>
<rect x="1616.3" y="411.4" width="4.8" height="4.8" fill="none" stroke="#4e9cf6" stroke-width="1.3"/>
<rect x="1619.3" y="411.4" width="4.8" height="4.8" fill="none" stroke="#4e9cf6" stroke-width="1.3"/>
<rect x="1622.3" y="411.4" width="4.8" height="4.8" fill="none" stroke="#4e9cf6" stroke-width="1.3"/>
<rect x="1625.3" y="411.4" width="4.8" height="4.8" fill="none" stroke="#4e9cf6" stroke-width="1.3"/>
<path d="M1540.6,380.3 V396.8 M1529.6,380.3 H1551.6 M1529.6,396.8 H1551.6" stroke="#000" stroke-width="2.6" fill="none"/>
<path d="M1610.1,404.9 V409.4 M1599.1,404.9 H1621.1 M1599.1,409.4 H1621.1" stroke="#000" stroke-width="2.6" fill="none"/>
<path d="M1505.7,254.2 V416.4 H1646.7" fill="none" stroke="#000" stroke-width="1.8"/>
<path d="M1540.55,416.4 v5 M1609.85,416.4 v5" stroke="#000" stroke-width="2.2"/>
<text x="1528.9" y="434.1" font-family="'Liberation Sans', Arial, sans-serif" font-weight="bold" font-size="13" textLength="22" lengthAdjust="spacingAndGlyphs">Ctrl</text>
<text x="1559.3" y="434.1" font-family="'Liberation Sans', Arial, sans-serif" font-weight="bold" font-size="13" textLength="98.8" lengthAdjust="spacingAndGlyphs"><tspan font-weight="normal" font-size="11.0" dy="1.3">α</tspan><tspan dy="-1.3">-Tim-3+</tspan><tspan font-weight="normal" font-size="11.0" dy="1.3">α</tspan><tspan dy="-1.3">-PD-1</tspan></text>
<text x="1610.55" y="341.7" text-anchor="middle" font-family="'Liberation Sans', Arial, sans-serif" font-weight="bold" font-size="26">*</text>
<text transform="translate(281.4,585.8) rotate(-90)" text-anchor="middle" font-family="'Liberation Sans', Arial, sans-serif" font-weight="bold" font-size="17.5" textLength="197.7" lengthAdjust="spacingAndGlyphs" xml:space="preserve"><tspan font-weight="normal" font-size="14.3">%</tspan> of T-bet<tspan dy="-6" font-size="12.2">+</tspan><tspan dy="6"> CD4</tspan><tspan dy="-6" font-size="12.2">+</tspan><tspan dy="6">T cells</tspan></text>
<text transform="translate(307.1,675) scale(0.86,1)" text-anchor="end" font-family="'Liberation Sans', Arial, sans-serif" font-weight="bold" font-size="19">0</text>
<text transform="translate(307.1,621.1) scale(0.86,1)" text-anchor="end" font-family="'Liberation Sans', Arial, sans-serif" font-weight="bold" font-size="19">10</text>
<text transform="translate(307.1,567.2) scale(0.86,1)" text-anchor="end" font-family="'Liberation Sans', Arial, sans-serif" font-weight="bold" font-size="19">20</text>
<text transform="translate(307.1,513.3) scale(0.86,1)" text-anchor="end" font-family="'Liberation Sans', Arial, sans-serif" font-weight="bold" font-size="19">30</text>
<path d="M309.4,669.4 H314.4 M309.4,615.5 H314.4 M309.4,561.6 H314.4 M309.4,507.7 H314.4" stroke="#000" stroke-width="2.2"/>
<rect x="327.9" y="612.1" width="43.6" height="57.3" fill="#fff" stroke="#000" stroke-width="2.6"/>
<rect x="396.1" y="577.4" width="43" height="92" fill="#fff" stroke="#000" stroke-width="2.6"/>
<rect x="339.2" y="590.2" width="4.8" height="4.8" fill="none" stroke="#f86870" stroke-width="1.3"/>
<rect x="346.4" y="593.4" width="4.8" height="4.8" fill="none" stroke="#f86870" stroke-width="1.3"/>
<rect x="353.9" y="592.1" width="4.8" height="4.8" fill="none" stroke="#f86870" stroke-width="1.3"/>
<rect x="346.4" y="609.7" width="4.8" height="4.8" fill="none" stroke="#f86870" stroke-width="1.3"/>
<rect x="335.1" y="620.9" width="4.8" height="4.8" fill="none" stroke="#f86870" stroke-width="1.3"/>
<rect x="342.9" y="623.6" width="4.8" height="4.8" fill="none" stroke="#f86870" stroke-width="1.3"/>
<rect x="349.8" y="623.6" width="4.8" height="4.8" fill="none" stroke="#f86870" stroke-width="1.3"/>
<rect x="357.1" y="620.4" width="4.8" height="4.8" fill="none" stroke="#f86870" stroke-width="1.3"/>
<rect x="407.9" y="538.1" width="4.8" height="4.8" fill="none" stroke="#4e9cf6" stroke-width="1.3"/>
<rect x="415.4" y="539.9" width="4.8" height="4.8" fill="none" stroke="#4e9cf6" stroke-width="1.3"/>
<rect x="422.6" y="538.6" width="4.8" height="4.8" fill="none" stroke="#4e9cf6" stroke-width="1.3"/>
<rect x="397.2" y="582.7" width="4.8" height="4.8" fill="none" stroke="#4e9cf6" stroke-width="1.3"/>
<rect x="404.4" y="583.5" width="4.8" height="4.8" fill="none" stroke="#4e9cf6" stroke-width="1.3"/>
<rect x="411.9" y="587.5" width="4.8" height="4.8" fill="none" stroke="#4e9cf6" stroke-width="1.3"/>
<rect x="419.1" y="587.5" width="4.8" height="4.8" fill="none" stroke="#4e9cf6" stroke-width="1.3"/>
<rect x="426.6" y="584.8" width="4.8" height="4.8" fill="none" stroke="#4e9cf6" stroke-width="1.3"/>
<rect x="433.8" y="582.7" width="4.8" height="4.8" fill="none" stroke="#4e9cf6" stroke-width="1.3"/>
<rect x="415.4" y="620.1" width="4.8" height="4.8" fill="none" stroke="#4e9cf6" stroke-width="1.3"/>
<path d="M349.2,606 V616.7 M338.1,606 H360.3 M338.1,616.7 H360.3" stroke="#000" stroke-width="2.6" fill="none"/>
<path d="M417.9,567.7 V584.6 M406.8,567.7 H429 M406.8,584.6 H429" stroke="#000" stroke-width="2.6" fill="none"/>
<path d="M314.4,506.7 V669.4 H452.5" fill="none" stroke="#000" stroke-width="2.3"/>
<path d="M349.7,669.4 v5 M417.6,669.4 v5" stroke="#000" stroke-width="2.2"/>
<text x="337.6" y="687.4" font-family="'Liberation Sans', Arial, sans-serif" font-weight="bold" font-size="13" textLength="22.1" lengthAdjust="spacingAndGlyphs">Ctrl</text>
<text x="366.8" y="687.4" font-family="'Liberation Sans', Arial, sans-serif" font-weight="bold" font-size="13" textLength="98.7" lengthAdjust="spacingAndGlyphs"><tspan font-weight="normal" font-size="11.0" dy="1.3">α</tspan><tspan dy="-1.3">-Tim-3+</tspan><tspan font-weight="normal" font-size="11.0" dy="1.3">α</tspan><tspan dy="-1.3">-PD-1</tspan></text>
<text x="418.55" y="528.7" text-anchor="middle" font-family="'Liberation Sans', Arial, sans-serif" font-weight="bold" font-size="26" textLength="23.4" lengthAdjust="spacingAndGlyphs">**</text>
<text transform="translate(679.6,582.5) rotate(-90)" text-anchor="middle" font-family="'Liberation Sans', Arial, sans-serif" font-weight="bold" font-size="17.5" textLength="217.8" lengthAdjust="spacingAndGlyphs" xml:space="preserve"><tspan font-weight="normal" font-size="14.3">%</tspan> of GATA-3<tspan dy="-6" font-size="12.2">+</tspan><tspan dy="6"> CD4</tspan><tspan dy="-6" font-size="12.2">+</tspan><tspan dy="6">T cells</tspan></text>
<text transform="translate(708.5,671.32) scale(0.9,1)" text-anchor="end" font-family="'Liberation Sans', Arial, sans-serif" font-weight="bold" font-size="18.5">0</text>
<text transform="translate(708.5,639.38) scale(0.9,1)" text-anchor="end" font-family="'Liberation Sans', Arial, sans-serif" font-weight="bold" font-size="18.5">5</text>
<text transform="translate(708.5,607.44) scale(0.9,1)" text-anchor="end" font-family="'Liberation Sans', Arial, sans-serif" font-weight="bold" font-size="18.5">10</text>
<text transform="translate(708.5,575.5) scale(0.9,1)" text-anchor="end" font-family="'Liberation Sans', Arial, sans-serif" font-weight="bold" font-size="18.5">15</text>
<text transform="translate(708.5,543.56) scale(0.9,1)" text-anchor="end" font-family="'Liberation Sans', Arial, sans-serif" font-weight="bold" font-size="18.5">20</text>
<text transform="translate(708.5,511.62) scale(0.9,1)" text-anchor="end" font-family="'Liberation Sans', Arial, sans-serif" font-weight="bold" font-size="18.5">25</text>
<path d="M711,666.1 H716 M711,634.16 H716 M711,602.22 H716 M711,570.28 H716 M711,538.34 H716 M711,506.4 H716" stroke="#000" stroke-width="2.2"/>
<rect x="728.1" y="596.9" width="44.2" height="69.2" fill="#fff" stroke="#000" stroke-width="2.6"/>
<rect x="797.8" y="635.9" width="43.4" height="30.2" fill="#fff" stroke="#000" stroke-width="2.6"/>
<rect x="740.3" y="535.5" width="4.8" height="4.8" fill="none" stroke="#f86870" stroke-width="1.3"/>
<rect x="747.3" y="537.3" width="4.8" height="4.8" fill="none" stroke="#f86870" stroke-width="1.3"/>
<rect x="754.6" y="534.7" width="4.8" height="4.8" fill="none" stroke="#f86870" stroke-width="1.3"/>
<rect x="740.3" y="545.9" width="4.8" height="4.8" fill="none" stroke="#f86870" stroke-width="1.3"/>
<rect x="747.3" y="548.5" width="4.8" height="4.8" fill="none" stroke="#f86870" stroke-width="1.3"/>
<rect x="754.6" y="546.4" width="4.8" height="4.8" fill="none" stroke="#f86870" stroke-width="1.3"/>
<rect x="744.7" y="568.5" width="4.8" height="4.8" fill="none" stroke="#f86870" stroke-width="1.3"/>
<rect x="751.7" y="570.1" width="4.8" height="4.8" fill="none" stroke="#f86870" stroke-width="1.3"/>
<rect x="748.6" y="595.3" width="4.8" height="4.8" fill="none" stroke="#f86870" stroke-width="1.3"/>
<rect x="737.7" y="633" width="4.8" height="4.8" fill="none" stroke="#f86870" stroke-width="1.3"/>
<rect x="744.7" y="636.1" width="4.8" height="4.8" fill="none" stroke="#f86870" stroke-width="1.3"/>
<rect x="751.7" y="637.4" width="4.8" height="4.8" fill="none" stroke="#f86870" stroke-width="1.3"/>
<rect x="759" y="633.5" width="4.8" height="4.8" fill="none" stroke="#f86870" stroke-width="1.3"/>
<rect x="737.7" y="644.7" width="4.8" height="4.8" fill="none" stroke="#f86870" stroke-width="1.3"/>
<rect x="744.7" y="646" width="4.8" height="4.8" fill="none" stroke="#f86870" stroke-width="1.3"/>
<rect x="751.7" y="646" width="4.8" height="4.8" fill="none" stroke="#f86870" stroke-width="1.3"/>
<rect x="759" y="644.1" width="4.8" height="4.8" fill="none" stroke="#f86870" stroke-width="1.3"/>
<rect x="809.2" y="571.4" width="4.8" height="4.8" fill="none" stroke="#4e9cf6" stroke-width="1.3"/>
<rect x="816.2" y="573.2" width="4.8" height="4.8" fill="none" stroke="#4e9cf6" stroke-width="1.3"/>
<rect x="823.5" y="568.8" width="4.8" height="4.8" fill="none" stroke="#4e9cf6" stroke-width="1.3"/>
<rect x="809.2" y="624.6" width="4.8" height="4.8" fill="none" stroke="#4e9cf6" stroke-width="1.3"/>
<rect x="816.2" y="626.5" width="4.8" height="4.8" fill="none" stroke="#4e9cf6" stroke-width="1.3"/>
<rect x="823.5" y="625.7" width="4.8" height="4.8" fill="none" stroke="#4e9cf6" stroke-width="1.3"/>
<rect x="809.2" y="643.4" width="4.8" height="4.8" fill="none" stroke="#4e9cf6" stroke-width="1.3"/>
<rect x="816.2" y="644.7" width="4.8" height="4.8" fill="none" stroke="#4e9cf6" stroke-width="1.3"/>
<rect x="797.2" y="648.6" width="4.8" height="4.8" fill="none" stroke="#4e9cf6" stroke-width="1.3"/>
<rect x="802.4" y="650.4" width="4.8" height="4.8" fill="none" stroke="#4e9cf6" stroke-width="1.3"/>
<rect x="807.9" y="651.9" width="4.8" height="4.8" fill="none" stroke="#4e9cf6" stroke-width="1.3"/>
<rect x="813.1" y="653.8" width="4.8" height="4.8" fill="none" stroke="#4e9cf6" stroke-width="1.3"/>
<rect x="818.3" y="653.8" width="4.8" height="4.8" fill="none" stroke="#4e9cf6" stroke-width="1.3"/>
<rect x="824" y="652.5" width="4.8" height="4.8" fill="none" stroke="#4e9cf6" stroke-width="1.3"/>
<rect x="829.7" y="651.2" width="4.8" height="4.8" fill="none" stroke="#4e9cf6" stroke-width="1.3"/>
<rect x="835.7" y="649.9" width="4.8" height="4.8" fill="none" stroke="#4e9cf6" stroke-width="1.3"/>
<path d="M750.7,584.7 V608.1 M740.1,584.7 H761.4 M740.1,608.1 H761.4" stroke="#000" stroke-width="2.6" fill="none"/>
<path d="M819.5,628.1 V642.4 M808.7,628.1 H830.3 M808.7,642.4 H830.3" stroke="#000" stroke-width="2.6" fill="none"/>
<path d="M715.3,505.4 V553" fill="none" stroke="#000" stroke-width="2.3"/>
<path d="M716.8,553 V666.1 H854.4" fill="none" stroke="#000" stroke-width="2.3"/>
<path d="M750.2,666.1 v5 M819.5,666.1 v5" stroke="#000" stroke-width="2.2"/>
<text x="739.5" y="684.2" font-family="'Liberation Sans', Arial, sans-serif" font-weight="bold" font-size="13" textLength="21.7" lengthAdjust="spacingAndGlyphs">Ctrl</text>
<text x="769.2" y="684.2" font-family="'Liberation Sans', Arial, sans-serif" font-weight="bold" font-size="13" textLength="97" lengthAdjust="spacingAndGlyphs"><tspan font-weight="normal" font-size="11.0" dy="1.3">α</tspan><tspan dy="-1.3">-Tim-3+</tspan><tspan font-weight="normal" font-size="11.0" dy="1.3">α</tspan><tspan dy="-1.3">-PD-1</tspan></text>
<text x="817.95" y="562" text-anchor="middle" font-family="'Liberation Sans', Arial, sans-serif" font-weight="bold" font-size="26" textLength="23.6" lengthAdjust="spacingAndGlyphs">**</text>
</svg></body></html>
